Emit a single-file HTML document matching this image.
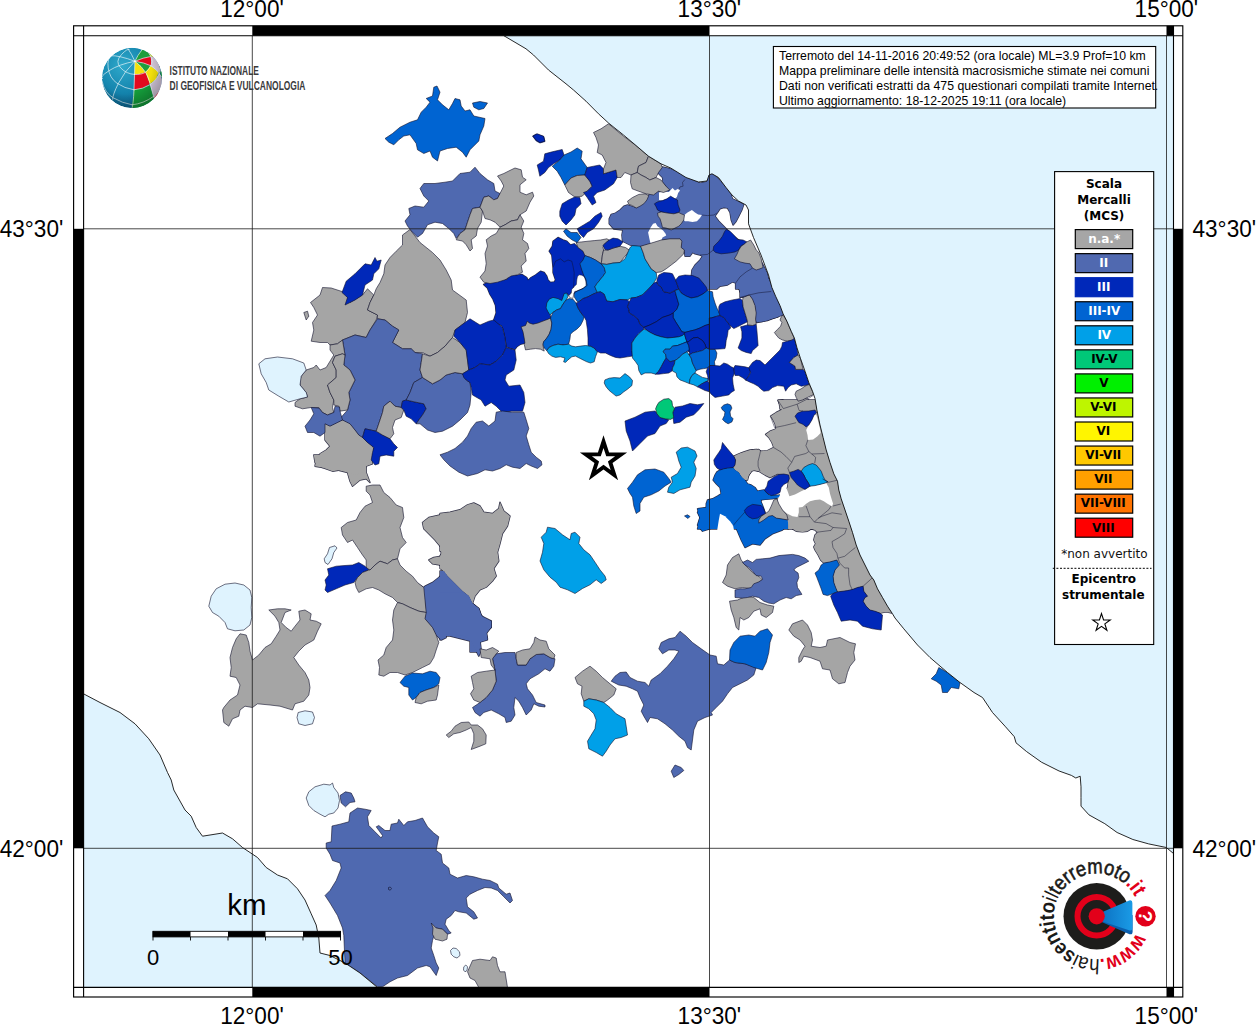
<!DOCTYPE html>
<html><head><meta charset="utf-8"><title>Mappa</title>
<style>
html,body{margin:0;padding:0;background:#fff;}
body{width:1256px;height:1024px;overflow:hidden;font-family:"Liberation Sans",sans-serif;}
svg{display:block;}
text{font-family:"Liberation Sans",sans-serif;}
text.dv{font-family:"DejaVu Sans","Liberation Sans",sans-serif;}
</style></head><body>
<svg width="1256" height="1024" viewBox="0 0 1256 1024">

<rect x="83.6" y="35.7" width="1089.9" height="951.7" fill="#fff"/>

<g stroke="#10102a" stroke-opacity="0.85" stroke-width="0.7" stroke-linejoin="round">
<path fill="#a5a5a5" stroke-width="1.4" d="M313.8 455L375 455L372.5 460L366.2 465L366.2 472.5L370 482.5L366.2 478.8L360 480L352.5 486.2L350 481.2L347.5 472.5L337.5 470L330 466.2L322.5 467.5L315 462.5Z"/>
<path fill="#a5a5a5" stroke-width="1.4" d="M422.5 522.5L428.8 517.5L440 515L443.8 513.8L443.8 572.5L440 565L432.5 563.8L428.8 560L433.8 557.5L441.2 556.2L441.2 547.5L435 540L428.8 533.8L423.8 528.8Z"/>
<path fill="#4f69b0" stroke-width="1.4" d="M417.5 583.8L423.8 587.5L425 586.2L432.5 582.5L438.8 577.5L443.8 572.5L446.2 572.5L446.2 637.5L441.2 640L436.2 635L432.5 627.5L425 618.8L426.2 612.5L425 600Z"/>
<path fill="#a5a5a5" stroke-width="1.4" d="M325 423.8L330 426.2L337.5 422.5L342.5 420L350 423.8L355 430L358.8 435L362.5 437.5L367.5 442.5L372.5 446.2L373.8 451.2L371.2 457.5L372.5 463.8L366.2 466.2L362.5 472.5L355 475L347.5 471.2L340 470L332.5 471.2L322.5 467.5L315 466.2L316.2 460L320 453.8L326.2 450L330 446.2L325 440L325 432.5Z"/>
<path fill="#a5a5a5" stroke-width="1.4" d="M440 513.5L450 512.2L460 509.8L467.5 504.8L473.8 503L480 506L483.8 512.2L492.5 513.5L498.8 508.5L500 502.2L503.8 511L510 516L507.5 526L502.5 533.5L500 543.5L497.5 552.2L498.8 561L493.8 568.5L496.2 576L492.5 581L486.2 587.2L480 589.8L475 596L472.5 603.5L468.8 596L462.5 591L455 583.5L447.5 576L443.8 571L440 568.5L440 556L442.5 552.2L440 551Z"/>
<path fill="#4f69b0" stroke-width="1.4" d="M443.8 571L447.5 576L455 583.5L462.5 591L468.8 596L472.5 603.5L478.8 608.5L481.2 616L491.2 621L491.2 627.2L486.2 633.5L487.5 639.8L480 642.2L477.5 652L470 652L470 641L460 638.5L450 636L440 636L440 571Z"/>
<path fill="#4f69b0" stroke-width="1.4" d="M440 592.5L463 592.5L468.8 596L472.5 603.5L478.8 608.5L481.2 615L485 620L491.2 621.2L491.2 627.5L486.2 631.2L487.5 638.8L480 640L481.2 650L478.8 656.2L471.2 641.2L465 636.2L455 634.5L445 635L440 640Z"/>
<path fill="#0028b9" stroke-width="1.4" d="M483.6 284.4L488 282.5L493 280L500.5 278.8L506.8 280L511.1 272.5L515.5 275.6L521.8 274.4L526.8 277.5L528 280.6L531.1 277.5L535.5 275L540.5 271.2L544.2 272.5L546.8 276.2L548 280L550.5 282.5L554.2 281.9L555.5 280L553 272.5L553 267.5L551.8 255L549.2 251.2L552.4 246.2L553 241.2L558 237.5L563 240L566.8 241.2L570.5 245L574.2 243.8L578 247.5L583 251.2L584.9 255L583 260L579.9 263.8L581.8 270L583.6 275L586.1 280L586.1 285.5L583 288.6L578 290.5L574.2 293L571.1 291.8L569.2 295.5L566.8 293L564.2 293.6L561.8 300.5L558 298.6L553 297.4L549.2 299.2L546.8 303L546.1 308L548 311.8L549.9 314.9L550.5 318L548 319.2L543 321.1L538 323L533 324.2L529.2 323L527.4 321.1L525.5 325.5L521.8 326.8L523 331.8L524.2 338L524.9 343L520.5 344.2L516.8 346.8L514.9 349.2L510.5 348L506.8 346.8L506.1 341.8L504.9 335.5L503.6 329.2L501.8 325.5L496.8 323L493.6 320.5L496.1 313L495.5 305.5L493 299.2L489.9 294.2L487.4 288Z"/>
<path fill="#4f69b0" stroke-width="1.4" d="M615.5 213.1L620 210L623.8 206.2L627.5 205L636.2 208.1L641.9 203.8L646.9 197.5L650 193.8L653.8 192.8L661.2 191.2L669.4 190.6L666.2 186.2L663.1 182.5L662.5 177.5L657.5 172.5L662.5 166.9L670 168.8L678.8 172.5L690 178.8L700 183.1L706.2 181.9L707.5 176.2L710.6 173.1L715 175.6L720 180.6L726.2 187.5L730.6 193.8L732.5 198.8L737.5 201.2L743.8 204.4L741.9 210L738.8 216.2L736.2 221.2L733.1 225L731.2 220L730 212.5L727.5 208.1L723.8 207.5L720 208.8L717.5 212.5L715 216.2L718.8 221.2L722.5 225L726.2 228.8L732.5 235L745 245L755 252.5L762.5 263.8L766.9 272.5L771.2 289L735.6 289L735.6 283.1L732.5 281.9L727.5 285L720 286.2L716.9 289L690 289L691.9 270L695 265L700 260L702.5 256.2L700 255L695 253.8L692.5 252.5L690 256.2L685 256.2L684.4 250L681.2 247.5L681.9 241.2L680 238.8L670 238.8L661.2 240L651.2 243.1L640.6 246.2L630 245L622.5 241.2L621.9 235L622.8 230L613.8 229L609.2 223.8L609.2 218.8L611.2 214.4Z"/>
<path fill="#4f69b0" stroke-width="1.4" d="M738.1 287L770.6 287L773.8 291.8L778 298L778 316.8L772.5 318.6L767.5 320.5L761.2 321.8L756.2 321.8L755.6 319.2L756.2 313L755 305.5L752.5 299.2L749.4 294.9L743.1 297.4L740.6 293Z"/>
<path fill="#0028b9" stroke-width="1.4" d="M636.2 301.8L657.5 293L675 294.2L707.5 293L712.5 300.5L715 318L723.8 320.5L725 345.5L707.5 346.8L690 351.8L672.5 344.2L657.5 335.5L645 328L638.8 319.2Z"/>
<path fill="#a5a5a5" stroke-width="1.4" d="M735.6 460L733.8 456.2L738.8 453.8L743.8 451.9L750 450L756.2 449.4L760.6 451.2L760 456.2L758.8 461.2L758.1 466.2L760 471.2L755 470L751.2 471.2L748.8 475L747.5 480L745 480L741.2 476.2L738.8 472.5L735 470L733.1 467.5L735 465Z"/>
<path fill="#0064d2" stroke-width="1.4" d="M720 470L723.8 468.8L727.5 468.1L733.1 467.5L735 470L738.8 472.5L741.2 476.2L745 480L747.5 483.8L751.2 485L755 487.5L757.5 491.2L760 490.6L763.8 490L768.8 495L775 495.6L780 495L783.1 496.9L777.5 498.1L772.5 498.8L765 499.4L760 500L761.9 503.8L763.8 508.8L765 512.5L760 517.5L758.8 521.9L763.8 520L768.8 516.2L772.5 515.6L776.2 518.1L781.2 518.8L788.1 520L788.8 523.8L788.1 529L697.5 529L698.8 523.8L700 517.5L697.5 512.5L700 508.8L706.2 510L706.2 503.8L707.5 500L712.5 498.8L717.5 496.2L721.2 493.8L720 487.5L716.2 483.8L713.1 480L715 475L716.9 471.9Z"/>
<path fill="#0064d2" stroke-width="1.4" d="M697.5 508.8L706.2 507.5L708.8 500L761.2 500L760 505L762.5 512.5L760 517.5L765 515L770 515L777.5 518.8L787.5 521.2L787.5 525L782.5 530L772.5 533.8L765 538.8L760 545L752.5 543.8L745 547.5L741.2 540L737.5 531.2L733.8 523.8L731.2 517.5L725 516.2L720 513.8L716.2 521.2L710 528.8L702.5 531.2L697.5 525L700 517.5Z"/>
<path fill="#4f69b0" stroke-width="1.4" d="M740 279L769 279L771.9 287.5L775.6 296.2L780 305.6L783.1 313.8L782.5 315L777.5 316.9L771.2 318.8L765 320.6L756.9 322.5L756.2 317.5L756.9 310L755 302.5L751.9 297.5L749.4 295L745 296.2L740 297.5Z"/>
<path fill="#a5a5a5" stroke-width="1.4" d="M778.1 400.6L782.5 400L786.9 401.9L791.2 402.5L795 405L796.2 409L780 409L779.4 403.8Z"/>
<path fill="#a5a5a5" stroke-width="1.4" d="M796.2 405L798.1 401.2L802.5 400L806.2 398.1L808.1 400L809.4 403.8L815 403.8L815.6 409L796.9 409Z"/>
<path fill="#a5a5a5" stroke-width="1.4" d="M778.1 400L815 400L816.9 410L820 425L823.1 437.5L826.2 450L830 462.5L833.8 473.8L837.5 481.2L838.8 490L841.2 502.5L845 516.2L848.8 529L788.1 529L788.1 520L782.5 512.5L777.5 501.2L777.5 497.5L782.5 496.2L787.5 487.5L788.8 480L788.1 475L777.5 473.8L770 477.5L765 475L758.8 471.2L752.5 470L748.8 475L745.6 480L742.5 477.5L740 473.8L740 453.8L746.2 452.5L752.5 450L758.8 449.4L760.6 451.2L767.5 450.6L773.8 447.5L771.9 442.5L768.8 437.5L765.6 434.4L770 431.2L776.2 428.8L775 423.8L772.5 418.8L770.6 416.2L776.2 412.5L781.2 410L782.5 407.5L780 405L778.8 402.5Z"/>
<path fill="#a5a5a5" stroke-width="1.4" d="M833.1 490L838.8 490L841.2 498.8L845 510L848.8 521.2L852.5 532.5L856.2 545L860 555L865 565L870 575L873.8 580L877.5 588.8L882.5 597.5L887.5 606.2L891.9 613.1L886.2 611.9L880 613.1L875 611.2L870 610L866.2 606.2L863.1 601.2L865 597.5L867.5 596.2L863.8 591.2L863.1 586.2L857.5 587.5L852.5 589.4L847.5 590.6L837.5 591.9L835.6 587.5L833.8 582.5L833.1 576.2L835 570L837.5 565.6L836.9 560L830 561.9L823.8 563.1L820.6 560L818.1 555L815 550L813.8 546.9L815.6 543.8L813.8 540L815 535L817.5 532.5L815 530L811.2 528.8L807.5 531.2L802.5 531.9L796.2 531.2L792.5 528.8L788.8 525.6L787.5 520L788.1 517.5L792.5 516.9L798.8 516.9L799.4 512.5L800 508.1L806.2 506.9L808.1 502.5L812.5 500.6L818.8 499.8L823.8 502.5L827.5 506.2L832.5 505.6L833.1 497.5Z"/>
<path fill="#a5a5a5" stroke="none" d="M313.8 455L375 455L372.5 460L366.2 465L366.2 472.5L370 482.5L366.2 478.8L360 480L352.5 486.2L350 481.2L347.5 472.5L337.5 470L330 466.2L322.5 467.5L315 462.5Z"/>
<path fill="#a5a5a5" stroke="none" d="M422.5 522.5L428.8 517.5L440 515L443.8 513.8L443.8 572.5L440 565L432.5 563.8L428.8 560L433.8 557.5L441.2 556.2L441.2 547.5L435 540L428.8 533.8L423.8 528.8Z"/>
<path fill="#4f69b0" stroke="none" d="M417.5 583.8L423.8 587.5L425 586.2L432.5 582.5L438.8 577.5L443.8 572.5L446.2 572.5L446.2 637.5L441.2 640L436.2 635L432.5 627.5L425 618.8L426.2 612.5L425 600Z"/>
<path fill="#a5a5a5" stroke="none" d="M325 423.8L330 426.2L337.5 422.5L342.5 420L350 423.8L355 430L358.8 435L362.5 437.5L367.5 442.5L372.5 446.2L373.8 451.2L371.2 457.5L372.5 463.8L366.2 466.2L362.5 472.5L355 475L347.5 471.2L340 470L332.5 471.2L322.5 467.5L315 466.2L316.2 460L320 453.8L326.2 450L330 446.2L325 440L325 432.5Z"/>
<path fill="#a5a5a5" stroke="none" d="M440 513.5L450 512.2L460 509.8L467.5 504.8L473.8 503L480 506L483.8 512.2L492.5 513.5L498.8 508.5L500 502.2L503.8 511L510 516L507.5 526L502.5 533.5L500 543.5L497.5 552.2L498.8 561L493.8 568.5L496.2 576L492.5 581L486.2 587.2L480 589.8L475 596L472.5 603.5L468.8 596L462.5 591L455 583.5L447.5 576L443.8 571L440 568.5L440 556L442.5 552.2L440 551Z"/>
<path fill="#4f69b0" stroke="none" d="M443.8 571L447.5 576L455 583.5L462.5 591L468.8 596L472.5 603.5L478.8 608.5L481.2 616L491.2 621L491.2 627.2L486.2 633.5L487.5 639.8L480 642.2L477.5 652L470 652L470 641L460 638.5L450 636L440 636L440 571Z"/>
<path fill="#4f69b0" stroke="none" d="M440 592.5L463 592.5L468.8 596L472.5 603.5L478.8 608.5L481.2 615L485 620L491.2 621.2L491.2 627.5L486.2 631.2L487.5 638.8L480 640L481.2 650L478.8 656.2L471.2 641.2L465 636.2L455 634.5L445 635L440 640Z"/>
<path fill="#0028b9" stroke="none" d="M483.6 284.4L488 282.5L493 280L500.5 278.8L506.8 280L511.1 272.5L515.5 275.6L521.8 274.4L526.8 277.5L528 280.6L531.1 277.5L535.5 275L540.5 271.2L544.2 272.5L546.8 276.2L548 280L550.5 282.5L554.2 281.9L555.5 280L553 272.5L553 267.5L551.8 255L549.2 251.2L552.4 246.2L553 241.2L558 237.5L563 240L566.8 241.2L570.5 245L574.2 243.8L578 247.5L583 251.2L584.9 255L583 260L579.9 263.8L581.8 270L583.6 275L586.1 280L586.1 285.5L583 288.6L578 290.5L574.2 293L571.1 291.8L569.2 295.5L566.8 293L564.2 293.6L561.8 300.5L558 298.6L553 297.4L549.2 299.2L546.8 303L546.1 308L548 311.8L549.9 314.9L550.5 318L548 319.2L543 321.1L538 323L533 324.2L529.2 323L527.4 321.1L525.5 325.5L521.8 326.8L523 331.8L524.2 338L524.9 343L520.5 344.2L516.8 346.8L514.9 349.2L510.5 348L506.8 346.8L506.1 341.8L504.9 335.5L503.6 329.2L501.8 325.5L496.8 323L493.6 320.5L496.1 313L495.5 305.5L493 299.2L489.9 294.2L487.4 288Z"/>
<path fill="#4f69b0" stroke="none" d="M615.5 213.1L620 210L623.8 206.2L627.5 205L636.2 208.1L641.9 203.8L646.9 197.5L650 193.8L653.8 192.8L661.2 191.2L669.4 190.6L666.2 186.2L663.1 182.5L662.5 177.5L657.5 172.5L662.5 166.9L670 168.8L678.8 172.5L690 178.8L700 183.1L706.2 181.9L707.5 176.2L710.6 173.1L715 175.6L720 180.6L726.2 187.5L730.6 193.8L732.5 198.8L737.5 201.2L743.8 204.4L741.9 210L738.8 216.2L736.2 221.2L733.1 225L731.2 220L730 212.5L727.5 208.1L723.8 207.5L720 208.8L717.5 212.5L715 216.2L718.8 221.2L722.5 225L726.2 228.8L732.5 235L745 245L755 252.5L762.5 263.8L766.9 272.5L771.2 289L735.6 289L735.6 283.1L732.5 281.9L727.5 285L720 286.2L716.9 289L690 289L691.9 270L695 265L700 260L702.5 256.2L700 255L695 253.8L692.5 252.5L690 256.2L685 256.2L684.4 250L681.2 247.5L681.9 241.2L680 238.8L670 238.8L661.2 240L651.2 243.1L640.6 246.2L630 245L622.5 241.2L621.9 235L622.8 230L613.8 229L609.2 223.8L609.2 218.8L611.2 214.4Z"/>
<path fill="#4f69b0" stroke="none" d="M738.1 287L770.6 287L773.8 291.8L778 298L778 316.8L772.5 318.6L767.5 320.5L761.2 321.8L756.2 321.8L755.6 319.2L756.2 313L755 305.5L752.5 299.2L749.4 294.9L743.1 297.4L740.6 293Z"/>
<path fill="#0028b9" stroke="none" d="M636.2 301.8L657.5 293L675 294.2L707.5 293L712.5 300.5L715 318L723.8 320.5L725 345.5L707.5 346.8L690 351.8L672.5 344.2L657.5 335.5L645 328L638.8 319.2Z"/>
<path fill="#a5a5a5" stroke="none" d="M735.6 460L733.8 456.2L738.8 453.8L743.8 451.9L750 450L756.2 449.4L760.6 451.2L760 456.2L758.8 461.2L758.1 466.2L760 471.2L755 470L751.2 471.2L748.8 475L747.5 480L745 480L741.2 476.2L738.8 472.5L735 470L733.1 467.5L735 465Z"/>
<path fill="#0064d2" stroke="none" d="M720 470L723.8 468.8L727.5 468.1L733.1 467.5L735 470L738.8 472.5L741.2 476.2L745 480L747.5 483.8L751.2 485L755 487.5L757.5 491.2L760 490.6L763.8 490L768.8 495L775 495.6L780 495L783.1 496.9L777.5 498.1L772.5 498.8L765 499.4L760 500L761.9 503.8L763.8 508.8L765 512.5L760 517.5L758.8 521.9L763.8 520L768.8 516.2L772.5 515.6L776.2 518.1L781.2 518.8L788.1 520L788.8 523.8L788.1 529L697.5 529L698.8 523.8L700 517.5L697.5 512.5L700 508.8L706.2 510L706.2 503.8L707.5 500L712.5 498.8L717.5 496.2L721.2 493.8L720 487.5L716.2 483.8L713.1 480L715 475L716.9 471.9Z"/>
<path fill="#0064d2" stroke="none" d="M697.5 508.8L706.2 507.5L708.8 500L761.2 500L760 505L762.5 512.5L760 517.5L765 515L770 515L777.5 518.8L787.5 521.2L787.5 525L782.5 530L772.5 533.8L765 538.8L760 545L752.5 543.8L745 547.5L741.2 540L737.5 531.2L733.8 523.8L731.2 517.5L725 516.2L720 513.8L716.2 521.2L710 528.8L702.5 531.2L697.5 525L700 517.5Z"/>
<path fill="#4f69b0" stroke="none" d="M740 279L769 279L771.9 287.5L775.6 296.2L780 305.6L783.1 313.8L782.5 315L777.5 316.9L771.2 318.8L765 320.6L756.9 322.5L756.2 317.5L756.9 310L755 302.5L751.9 297.5L749.4 295L745 296.2L740 297.5Z"/>
<path fill="#a5a5a5" stroke="none" d="M778.1 400.6L782.5 400L786.9 401.9L791.2 402.5L795 405L796.2 409L780 409L779.4 403.8Z"/>
<path fill="#a5a5a5" stroke="none" d="M796.2 405L798.1 401.2L802.5 400L806.2 398.1L808.1 400L809.4 403.8L815 403.8L815.6 409L796.9 409Z"/>
<path fill="#a5a5a5" stroke="none" d="M778.1 400L815 400L816.9 410L820 425L823.1 437.5L826.2 450L830 462.5L833.8 473.8L837.5 481.2L838.8 490L841.2 502.5L845 516.2L848.8 529L788.1 529L788.1 520L782.5 512.5L777.5 501.2L777.5 497.5L782.5 496.2L787.5 487.5L788.8 480L788.1 475L777.5 473.8L770 477.5L765 475L758.8 471.2L752.5 470L748.8 475L745.6 480L742.5 477.5L740 473.8L740 453.8L746.2 452.5L752.5 450L758.8 449.4L760.6 451.2L767.5 450.6L773.8 447.5L771.9 442.5L768.8 437.5L765.6 434.4L770 431.2L776.2 428.8L775 423.8L772.5 418.8L770.6 416.2L776.2 412.5L781.2 410L782.5 407.5L780 405L778.8 402.5Z"/>
<path fill="#a5a5a5" stroke="none" d="M833.1 490L838.8 490L841.2 498.8L845 510L848.8 521.2L852.5 532.5L856.2 545L860 555L865 565L870 575L873.8 580L877.5 588.8L882.5 597.5L887.5 606.2L891.9 613.1L886.2 611.9L880 613.1L875 611.2L870 610L866.2 606.2L863.1 601.2L865 597.5L867.5 596.2L863.8 591.2L863.1 586.2L857.5 587.5L852.5 589.4L847.5 590.6L837.5 591.9L835.6 587.5L833.8 582.5L833.1 576.2L835 570L837.5 565.6L836.9 560L830 561.9L823.8 563.1L820.6 560L818.1 555L815 550L813.8 546.9L815.6 543.8L813.8 540L815 535L817.5 532.5L815 530L811.2 528.8L807.5 531.2L802.5 531.9L796.2 531.2L792.5 528.8L788.8 525.6L787.5 520L788.1 517.5L792.5 516.9L798.8 516.9L799.4 512.5L800 508.1L806.2 506.9L808.1 502.5L812.5 500.6L818.8 499.8L823.8 502.5L827.5 506.2L832.5 505.6L833.1 497.5Z"/>
<path fill="#fff" stroke="none" d="M659 192.5L663.1 191.2L668.8 191.9L672.5 188.1L675 190.6L678.1 188.8L680 190.6L678.1 193.1L676.9 196.9L675 198.8L670.6 196.2L666.9 198.8L662.5 200.6L659 200Z"/>
<path fill="#fff" stroke="none" d="M684.4 215L687.5 212.5L691.9 210L695 212.5L698.1 214.4L701.9 215L700 218.1L696.9 221.2L692.5 221.9L688.1 221.2L685 221.2L683.8 220Z"/>
<path fill="#fff" stroke="none" d="M648.1 232.5L650.6 227.5L653.1 223.8L655.6 223.1L657.5 226.2L660 228.1L663.1 230.6L665.6 233.8L666.2 235.6L662.5 237.5L660.6 241.9L656.2 242.5L650.6 243.8L649.4 238.8Z"/>
<path fill="#fff" stroke="none" d="M720 513.8L725 516.2L730 521.2L733.1 525.6L734 530.2L717.2 530.2L718.8 520Z"/>
<path fill="#fff" stroke="none" d="M806.2 430L808.8 425L811.9 420L813.8 415.6L816.2 414.4L817.5 418.8L820 428.8L820.6 433.1L817.5 436.2L813.1 439.4L808.1 440L807.5 435Z"/>
<path fill="#fff" stroke="none" d="M777.5 500L780 495L780.6 487.5L783.1 485L786.2 487.5L788.1 492.5L789.4 496.2L795 494.4L801.2 491.2L805 489.4L810 486.2L820 484.4L826.2 483.1L828.8 487.5L830 493.8L831.9 500L833.1 503.8L831.9 506.2L827.5 503.8L823.8 501.2L820 499.4L815 500L810 501.2L806.2 503.8L802.5 506.9L798.8 507.5L798.8 512.5L797.5 516.9L792.5 516.2L787.5 513.8L783.1 510.6L779.4 506.2Z"/>
<path fill="#fff" stroke="none" d="M579 274.8L581.8 275.2L584.4 276.8L585.7 280.6L587.3 285.4L584.4 287.6L581.8 288.9L578 290.8L574.8 291.4L573.6 294.6L572.9 298.4L569.7 297.5L568.8 295.5L571.3 293.3L571.7 289.5L574.2 286.6L576.4 284.4L576.8 279.9L577.4 276.8Z"/>
<path fill="#a5a5a5" d="M366.2 486.2L372.5 485L380 485L383.8 492.5L390 497.5L396.2 505L402.5 507.5L403.8 517.5L400 527.5L402.5 537.5L406.2 542.5L400 548.8L397.5 558.8L392.5 560L387.5 563.8L380 561.2L375 565L370 570L366.2 567.5L366.2 560L362.5 555L357.5 547.5L352.5 540L347.5 542.5L342.5 535L341.2 527.5L347.5 522.5L356.2 520L360 512.5L365 506.2L372.5 502.5L370 495L366.2 491.2Z"/>
<path fill="#0028b9" d="M325 580L328.8 575L327.5 568.8L336.2 566.2L345 565.5L352.5 565L358.8 562.5L365 566.2L368.8 570L362.5 572.5L357.5 577.5L353.8 582.5L345 585L336.2 588.8L327.5 592.5L325 590L326.2 585Z"/>
<path fill="#a5a5a5" d="M355 582.5L357.5 577.5L362.5 572.5L368.8 570L370 570L375 565L380 561.2L387.5 563.8L392.5 560L397.5 558.8L400 565L406.2 571.2L412.5 576.2L417.5 582.5L423.8 587.5L425 600L426.2 612.5L418.8 611.2L410 607.5L402.5 603.8L397.5 602.5L392.5 597.5L385 593.8L378.8 590L372.5 587.5L366.2 588.8L358.8 592.5L356.2 587.5Z"/>
<path fill="#a5a5a5" d="M397.5 602.5L402.5 603.8L410 607.5L418.8 611.2L426.2 612.5L425 618.8L432.5 627.5L436.2 635L438.8 642.5L436.2 650L433.8 657.5L430 663.8L422.5 667.5L412.5 672.5L405 675L397.5 672.5L390 672.5L383.8 676.2L378.8 675L379.5 667.5L378 660L383.8 655L386.2 647.5L392.5 640L393.8 630L392.5 620L393.8 610Z"/>
<path fill="#0064d2" d="M400 682.5L405 676.2L412.5 673L422.5 673.8L430 671.2L436.2 672.5L440 677.5L438.8 683.8L433.8 687.5L426.2 690L420 692.5L416.2 697.5L412.5 700L408.8 695L408.8 687.5L403.8 686.2Z"/>
<path fill="#a5a5a5" d="M416.2 697.5L420 692.5L426.2 690L433.8 687.5L438.8 685L437.5 695L436.2 700L427.5 701.2L421.2 703.8L415 702.5Z"/>
<path fill="#a5a5a5" d="M268.8 610L277.5 608.8L285 608.8L291.2 610L285 612.5L281.2 622.5L286.2 627.5L291.2 631.2L295 626.2L300 620L298.8 611.2L305 610L311.2 613.8L310 620L316.2 621.2L321.2 623.8L317.5 631.2L313.8 640L305 645L298.8 651.2L293.8 657.5L298.8 665L305 672.5L308.8 680L310 687.5L308.8 695L303.8 701.2L295 703.8L292.5 710L280 706.2L270 705L257.5 703.8L252.5 707.5L245 706.2L240 710L238.8 716.2L232.5 718.8L228.8 726.2L223.8 722.5L222.5 710L223.8 707.5L230 700L237.5 695L240 685L236.2 677.5L230 676.2L231.2 667.5L230 657.5L232.5 647.5L236.2 638.8L240 633.8L246.2 635L248.8 642.5L250 651.2L252.5 660L258.8 655L265 647.5L271.2 643.8L276.2 636.2L280 630L278.8 622.5L275 616.2Z"/>
<path fill="#a5a5a5" d="M310.5 302.5L320 295L322.5 287.5L331.2 288L345 292.5L350 302.5L362.5 295L367.5 288.8L373.8 295L370 302.5L367.5 310L377.5 315L376.2 320L370 330L366.2 337.5L355 335L342.5 340L337.5 343.8L330 345L327.5 342.5L320 342.5L311.2 341.2L313.8 330L312.5 322.5L317.5 315L313.8 307.5Z"/>
<path fill="#a5a5a5" d="M303.8 312.5L307.5 311.2L308.8 316.2L306.2 320Z"/>
<path fill="#0028b9" d="M342 292.5L346.2 281.2L355 273.8L365 263.8L371.2 265L375 257.5L377 261.2L381.2 260L378.8 268.8L373.8 273.8L372.5 280L365 285L362.5 295L355 300L345 305L347.5 297.5Z"/>
<path fill="#a5a5a5" d="M402.5 235L410 229.5L420 242.5L432.5 252.5L440 260L446.2 270L451.2 280L452.5 290L466.2 300L467.5 312.5L465 322.5L455 330L452.5 337.5L445 346.2L437.5 352.5L430 356.2L422.5 352.5L415 352.5L411.2 348.8L402.5 348.8L392.5 342.5L395 337.5L398.8 330L392.5 326.2L385 320L377.5 318.8L377.5 315L367.5 310L370 302.5L373.8 295L376.2 288.8L380 282.5L383.8 273.8L385 265L390 257.5L396.2 251.2L402.5 245Z"/>
<path fill="#4f69b0" d="M377.5 318.8L385 320L392.5 326.2L398.8 330L395 337.5L392.5 342.5L402.5 348.8L411.2 348.8L415 352.5L422.5 353.8L421.2 362.5L420 370L422.5 377.5L413.8 382.5L410 392.5L406.2 400L402.5 401.2L401.2 407.5L395 406.2L390 401.2L383.8 406.2L382.5 412.5L380 420L377.5 427.5L376.2 431.2L365 428.8L362.5 437.5L358.8 435L355 430L350 423.8L342.5 420L338.8 420L347.5 410L350 400L348.8 392.5L355 380L350 370L343.8 365L345 355L342.5 340L355 335L366.2 337.5L370 330Z"/>
<path fill="#a5a5a5" d="M300 380L301.2 376.2L306.2 370L313.8 367.5L316.2 365L320 370L326.2 367.5L333.8 355L330 350L330 345L337.5 343.8L342.5 340L345 355L342.5 353.8L335 356.2L332.5 362.5L336.2 370L336.2 377.5L327.5 385L330 392.5L333.8 400L332.5 407.5L333.8 412.5L327.5 415L322.5 412.5L318.8 407.5L311.2 407.5L302.5 408.8L295 406.2L295 402.5L300 398.8L307.5 397L306.2 392.5L300 385Z"/>
<path fill="#a5a5a5" d="M335 356.2L342.5 353.8L345 355L343.8 365L350 370L355 380L348.8 392.5L350 400L347.5 410L340 411.2L338.8 406.2L333.8 405L333.8 400L330 392.5L327.5 385L336.2 377.5L336.2 370L332.5 362.5Z"/>
<path fill="#4f69b0" d="M311.2 407.5L318.8 408L322.5 412.5L327.5 415L333.8 412.5L335 406.2L339.5 407L340 411.2L342.5 420L337.5 422.5L330 426.2L325 423.8L325 432.5L320 436.2L313.8 432.5L307.5 432.5L305 426.2L310 420L313.8 413.8Z"/>
<path fill="#0028b9" d="M365 428.8L376.2 431.2L382.5 435L390 438.8L393.8 443.8L397.5 447.5L393.8 451.2L393.8 456.2L386.2 455L380 456.2L378.8 463.8L375 465L371.2 460L372.5 452.5L373.8 447.5L367.5 442.5L362.5 437.5Z"/>
<path fill="#a5a5a5" d="M390 401.2L395 406.2L401.2 407.5L403.8 410L401.2 417.5L395 420L392.5 427.5L393.8 433.8L390 438.8L382.5 435L376.2 431.2L380 420L382.5 412.5L383.8 406.2Z"/>
<path fill="#0028b9" d="M402.5 401.2L406.2 400L415 402L423.8 403.8L426.2 408.8L422.5 415L418.8 420L416.2 423.8L411.2 418.8L406.2 416.2L403.8 410L401.2 407.5Z"/>
<path fill="#4f69b0" d="M413.8 382.5L422.5 377.5L432.5 383.8L440 380L446.2 375L455 372.5L462.5 373.8L466.2 380L470 382.5L471.2 392.5L470 405L467.5 412.5L460 420L452.5 426.2L442.5 431.2L435 432.5L427.5 430L420 423.8L416.2 423.8L418.8 420L422.5 415L426.2 408.8L423.8 403.8L415 402L406.2 400L410 392.5Z"/>
<path fill="#a5a5a5" d="M422.5 353.8L430 356.2L437.5 352.5L445 346.2L452.5 337.5L460 342.5L466.2 350L467.5 360L468.8 370L462.5 373.8L455 372.5L446.2 375L440 380L432.5 383.8L422.5 377.5L420 370L421.2 362.5Z"/>
<path fill="#0028b9" d="M453.8 336.2L455 330L465 322.5L470 318.8L480 325L488.8 321.2L493.8 320L502.5 327.5L505 337.5L506.2 347.5L502.5 355L496.2 361.2L490 365L480 363.8L475 367.5L468.8 370L467.5 360L466.2 350L460 342.5Z"/>
<path fill="#0028b9" d="M468.8 370L475 367.5L480 363.8L490 365L496.2 361.2L502.5 355L506.2 347.5L515 350L516.2 360L513.8 370L506.2 375L505 380L508.8 386.2L520 385L523.8 392.5L525 402.5L522.5 411.2L511.2 411.2L502.5 412.5L496.2 406.2L491.2 402.5L485 406.2L481.2 400L472.5 395L471.2 387.5L470 382.5L466.2 380L463.8 377.5L462.5 373.8Z"/>
<path fill="#4f69b0" d="M340 795.5L345.5 791.8L351.2 793L353.8 798L355 801.8L350 802.5L345.5 806.8L341.2 803Z"/>
<path fill="#4f69b0" d="M332 826L340 824.2L348.8 821.8L350 813L357.5 808L365 809.2L371.2 810.5L367.5 816.8L368.8 825.5L375 831.8L381.2 838L382.5 835.5L376.2 826.8L378.8 825.5L385 830.5L390 830.5L391.2 824.2L397.5 823L398.8 819.2L403.8 825.5L407.5 821.8L415 820.5L422.5 818L427.5 826.8L433.8 833L438.8 836.8L437.5 843L436.2 850.5L441.2 854.2L442.5 863L448.8 868L450 874.2L457.5 878L466.2 875.5L473.8 876.8L482.5 879.2L490 880.5L497.5 884.2L498.8 888L506.2 894.2L510 893L512.5 900.5L510 903L503.8 896.8L497.5 890.5L491.2 888L485 887.5L477.5 890.5L470 894.2L466.2 898L467.5 906.8L473.8 911.8L477.5 918L473.8 919.2L466.2 913L458.8 911.8L455 910.5L451.2 915.5L446.2 919.2L445 924.2L448.8 930.5L451.2 933L447.5 934.2L442.5 929.2L436.2 928L432.5 940.5L431.2 948L433.8 955.5L436.2 963L438.8 968L436.2 975.5L430 966.8L426.2 965.5L417.5 968L407.5 975.5L397.5 978L390 981.8L382.5 986.8L377.5 986.8L360 973L345 963L343.8 935.5L342.5 928L337.5 915.5L330 903L325 895.5L330 890.5L336.2 880.5L341.2 868L340 863L332.5 860.5L330 854.2L326.2 848L326.2 843L331.2 841.8Z"/>
<path fill="#a5a5a5" d="M431.2 923L436.2 928L442.5 929.2L447.5 934.2L447 939.2L442.5 941L435 939.2L432.5 934.2L433 928Z"/>
<path fill="#a5a5a5" d="M467.5 971.8L472.5 960.5L480 959.2L490 960.5L492.5 956.8L496.2 958L497.5 965.5L500 971.8L505 971.8L507.5 987.5L478.8 987.5L475 980.5L470 978Z"/>
<path fill="#4f69b0" d="M388.5 887.5L390.2 887L391.5 888.5L390.2 890.2L388.5 889.5Z"/>
<path fill="#0064d2" d="M385 138.5L392.5 133.5L400 127.2L410 122.2L417.5 119.8L421.2 112.2L426.2 107.2L430 102.2L426.2 98.5L432.5 96L433.8 87.2L437 86L440 92.2L437.5 99.8L442.5 104.8L448.8 109.8L452.5 103.5L455 98.5L460 99.8L461.2 106L465 111L470 109.8L473.8 116L485 118.5L483.8 126L480 134.8L478.8 141L473.8 146L470 149.8L466.2 157.2L462.5 152.2L456.2 147.2L447.5 148.5L440 151L437.5 161L432.5 157.2L430 151L423.8 153.5L417.5 149.8L416.2 143.5L410 134.8L403.8 136L398.8 139.8L393.8 144.8L388.8 142.2Z"/>
<path fill="#0064d2" d="M472.5 103L480 101.5L487.5 103L483.8 108.5L478.8 109.8L473.8 107.2Z"/>
<path fill="#0028b9" d="M532.5 136L536.2 134L543.8 136.5L545 141.5L540 143L536.2 141Z"/>
<path fill="#4f69b0" d="M405 221L410 214.8L408.8 208.5L415 206L423.8 207.2L428.8 201L423.8 196L420 188.5L423.8 183.5L435 183.5L445 182.2L452.5 181L460 173.5L470 172.2L475 167.2L480 173.5L487.5 179.8L493.8 183.5L495 191L500 193.5L497.5 198.5L493.8 199.8L488.8 196L483.8 197.2L480 207.2L472.5 208.5L470 214.8L467.5 222.2L465 229.8L460 233.5L456.2 238.5L453.8 233.5L448.8 228.5L442.5 223.5L435 222.2L427.5 224.8L422.5 233.5L417.5 237.2L412.5 232.2L407.5 226Z"/>
<path fill="#a5a5a5" d="M472.5 208.5L480 207.2L482.5 211L481.2 222.2L477.5 228.5L476.2 236L471.2 239.8L472.5 248.5L470 251L466.2 244.8L462.5 241L456.2 239.8L460 233.5L465 229.8L467.5 222.2L470 214.8Z"/>
<path fill="#a5a5a5" d="M480 207.2L483.8 197.2L488.8 196L493.8 199.8L497.5 198.5L500 193.5L503.8 186L501.2 181L497.5 176L503.8 173.5L511.2 169.8L515 168L521.2 169.8L522.5 177.2L526.2 179.8L520 184.8L520 192.2L526.2 194.8L532.5 192.2L533.8 196L530 202.2L526.2 211L520 214.8L517.5 219.8L511.2 221L505 224.8L500 227.2L495 222.2L490 219.8L485 218.5L482.5 211Z"/>
<path fill="#a5a5a5" d="M500 227.2L505 224.8L511.2 221L517.5 219.8L520 214.8L523.8 221L521.2 227.2L523.8 233.5L522.5 239.8L527.5 243.5L528.8 248.5L525 253.5L526.2 261L521.2 266L522.5 272.2L517.5 274.8L511.2 276L505 279.8L497.5 282.2L490 283.5L483.8 282.2L480 277.2L485 271L486.2 263.5L485 253.5L487.5 246L486.2 239.8L491.2 236L496.2 233.5Z"/>
<path fill="#4f69b0" d="M440 454.8L447.5 452.2L455 448.5L462.5 442.2L467.5 436L471.2 428.5L476.2 422.2L482.5 421L488.8 426L495 421L496.2 412.2L502.5 411L512.5 412.2L523.8 412.2L526.2 419.8L528.8 428.5L526.2 436L528.8 444.8L531.2 452.2L536.2 457.2L541.2 461L542 464.8L537.5 468.5L531.2 466L526.2 463.5L520 468.5L512.5 467.2L506.2 464.8L500 468.5L492.5 471L485 469.8L477.5 473.5L467.5 476L458.8 472.2L450 466L443.8 459.8Z"/>
<path fill="#0028b9" d="M625 421L635 417.2L645 412.2L655 411L660 417.2L668.8 419.8L666.2 423.5L660 426L655 433.5L647.5 436L640 443.5L632.5 451L630 441L626.2 431Z"/>
<path fill="#0028b9" d="M675 407.2L682.5 406L690 403.5L697.5 404.8L703.8 403.5L698.8 409.8L693.8 414.8L686.2 417.2L680 422.2L673.8 423.5L672.5 413.5Z"/>
<path fill="#0064d2" d="M627.5 488.5L632.5 482.2L637.5 474.8L645 469.8L655 469L663.8 472.2L668.8 478.5L671.2 482.2L665 486L658.8 491L651.2 494.8L643.8 497.2L640 503.5L640 511L636.2 513.5L633.8 506L632.5 497.2L630 493.5Z"/>
<path fill="#00a0e8" d="M676.2 452.2L681.2 448L687.5 447.2L695 451L697 456L693.8 462.2L696.2 468.5L695 476L691.2 482.2L690 487.2L680 489.8L673.8 493.5L667.5 492.2L668.8 487.2L672.5 482.2L671.2 477.2L677.5 473.5L681.2 467.2L678.8 461L677.5 456Z"/>
<path fill="#0064d2" d="M684.5 516L687.5 514.8L690 516.5L688 518.5Z"/>
<path fill="#00a0e8" d="M541.2 537.2L546.2 532.2L547.5 527.2L555 528.5L562.5 534.8L570 539.8L571.2 533.5L575 532.2L580 537.2L578.8 543.5L583.8 549.8L590 554.8L595 562.2L600 569.8L605 576L606.2 579.8L601.2 583.5L596.2 579.8L590 584.8L582.5 588.5L575 593.5L567.5 589.8L560 587.2L556.2 582.2L550 577.2L543.8 569.8L540 561L542.5 552.2L543.8 543.5Z"/>
<path fill="#4f69b0" d="M611.2 681.2L615 676.2L620 672.5L626.2 672L630 677.5L637.5 681.2L645 682.5L648.8 686.2L651.2 680L660 673.8L667.5 666.2L673.8 658.8L678.8 651.2L675 650L668.8 650L662.5 653.8L658.8 648.8L661.2 642.5L668.8 638.8L675 637.5L680 631.2L686.2 636.2L692.5 642.5L701.2 648.8L710 655L716.2 656.2L717.5 663.8L723.8 665L729.5 660L735 662.5L745 663.8L756.2 667.5L753.8 675L747.5 680L740 683.8L732.5 687.5L727.5 693.8L722.5 701.2L716.2 707.5L711.2 712.5L712.5 715L705 717.5L697.5 721.2L693.8 730L692.5 740L691.2 750L687.5 747.5L685 741.2L678.8 736.2L672.5 730L665 723.8L657.5 718.8L650 717.5L647.5 722.5L643.8 716.2L641.2 711.2L643.8 705L640 697.5L637.5 691.2L632.5 688.8L626.2 686.2L618.8 685Z"/>
<path fill="#4f69b0" d="M671.2 771.2L675 765L681.2 767.5L683.8 770.5L678.8 774.5L673.8 777.5Z"/>
<path fill="#a5a5a5" d="M575 677.5L582.5 671.2L590 666.2L596.2 671.2L602.5 677.5L610 683.8L616.2 688.8L613.8 695L607.5 700L603.8 702.5L596.2 700L588.8 698.8L583.8 701.2L581.2 693.8L582 686.2L577.5 683.8Z"/>
<path fill="#00a0e8" d="M583.8 701.2L588.8 698.8L596.2 700L603.8 702.5L610 707.5L616.2 713.8L625 718.8L626.2 726.2L627.5 735L621.2 737.5L615 738.8L610 745L606.2 751.2L602.5 756.2L596.2 752.5L588.8 748.8L587.5 741.2L591.2 735L595 728.8L596.2 720L593.8 713.8L588.8 708.8L583.8 706.2Z"/>
<path fill="#4f69b0" d="M472.5 707.5L480 702.5L486.2 697.5L492.5 690L496.2 681.2L495 670L492.5 658.8L496.2 653.8L505 652.5L515 652.5L516.2 658.8L517.5 665L526.2 665L530 658.8L536.2 654.5L543.8 653.8L550 657.5L555 658.8L553.8 666.2L550 671.2L545 668.8L538.8 673.8L530 678.8L526.2 683.8L527.5 688.8L532.5 695L536.2 702.5L545 705L545 707L538.8 706.2L533.8 703.8L531.2 710L526.2 715L522.5 707.5L518.8 701.2L515 697.5L513.8 707.5L515 715L511.2 721.2L506.2 722.5L505 717.5L498.8 713.8L491.2 710L483.8 712.5L480 716.2L475 712.5Z"/>
<path fill="#a5a5a5" d="M516.2 652.5L522.5 650L530 648.8L533.8 642.5L535 637L540 640L546.2 641.2L548.8 648.8L555 655L553.8 658.8L550 657.5L543.8 653.8L536.2 654.5L530 658.8L526.2 665L517.5 665L516.2 658.8Z"/>
<path fill="#a5a5a5" d="M471.2 676.2L477.5 672.5L486.2 671.2L495 670L496.2 681.2L492.5 690L486.2 697.5L480 702.5L473.8 700L470.5 693.8L473.8 688.8L472.5 682.5Z"/>
<path fill="#a5a5a5" d="M480 648.8L486.2 650L492.5 647.5L498.8 651.2L496.2 653.8L492.5 658.8L495 670L491.2 665L490 658.8L481.2 657.5Z"/>
<path fill="#a5a5a5" d="M446.2 735L451.2 731.2L455 726.2L461.2 722.5L468.8 722L471.2 725L477.5 725L482.5 728.8L486.2 735L485.8 743.8L480 746.2L471.2 749.5L473.8 741.2L473.8 733.8L471.2 727.5L466.2 730L460 732.5L453.8 733.8L448.8 737.5Z"/>
<path fill="#a5a5a5" d="M576.1 242.5L581.8 241.9L588 241.2L594.2 240.6L600.5 240L606.8 238.8L609.2 240L604.2 243.8L603 247.5L603.6 250L602.4 255L601.8 260L601.1 263.8L595.5 260L590.5 257.5L584.9 255.6L583 251.2L578 247.5Z"/>
<path fill="#a5a5a5" d="M603.6 250L608 250L613 248.1L620 246.2L625.5 247.5L630 250.5L625 256.2L620 262.5L613 263.1L606.8 264.4L601.1 263.8L601.8 260L602.4 255Z"/>
<path fill="#0028b9" d="M603 245.6L605.5 243.1L609.2 240L613 238.1L618 238.8L620 240L623 241.9L620 246.2L613 248.1L608 250L604.9 249.4Z"/>
<path fill="#a5a5a5" d="M521.1 326.8L525.5 325.5L527.4 321.1L529.2 323L533 324.2L538 323L543 321.1L548 319.2L550.5 318L551.8 323L551.1 329.2L549.2 334.2L546.8 338L543.6 341.8L543 345.5L544.2 351.1L540.5 349.2L535.5 348.6L530.5 349.2L525.5 349.9L524.2 344.2L524.9 343L524.2 338L523 331.8Z"/>
<path fill="#00a0e8" d="M546.1 308L546.8 303L549.2 299.2L553 297.4L558 298.6L561.8 300.5L564.2 293.6L566.8 293L568 296.8L566.1 299.9L563 304.2L560.5 308.6L556.8 309.9L553 312.4L549.9 314.9L548 311.8Z"/>
<path fill="#0064d2" d="M550.5 318L553 312.4L556.8 309.9L560.5 308.6L563 304.2L566.1 299.9L569.2 298.6L573 299.2L576.1 303L578 308L581.1 313L584.2 316.8L583 320.5L580.5 325.5L576.8 329.2L573 331.8L570.5 334.2L569.9 339.2L568.6 344.2L563 344.9L558 344.2L553 345.5L549.2 347.4L546.8 350.5L544.2 348L543 344.2L543.6 341.8L546.8 338L549.2 334.2L551.1 329.2L551.8 323Z"/>
<path fill="#00a0e8" d="M546.8 350.5L549.2 347.4L553 345.5L558 344.2L563 344.9L568.6 344.2L571.8 346.1L575.5 346.8L580.5 346.1L585.5 345.5L590.5 346.1L594.2 348L597.4 351.8L595.5 356.8L594.2 361.8L590.5 363L586.8 361.8L583 359.9L579.2 358L575.5 356.1L571.8 356.8L568 359.9L565.5 362.4L563.6 361.8L564.9 358L560.5 356.8L555.5 357.4L551.8 356.1L548.6 353.6Z"/>
<path fill="#0064d2" d="M584.9 255.6L590.5 257.5L595.5 260L601.1 263.8L604.2 267.5L605.5 272.5L603 276.2L599.9 280L596.8 283.8L594.9 286.8L596.1 289.9L597.4 292.4L593 294.2L588 296.8L583 298.6L578 302.4L576.1 299.9L574.2 296.8L574.2 293L578 290.5L583 288.6L586.1 285.5L586.1 280L583.6 275L581.8 270L579.9 263.8L583 260Z"/>
<path fill="#00a0e8" d="M601.1 263.8L606.8 264.4L613 263.1L620 262.5L625 258.8L630 247.5L632.5 245.6L640.6 246.2L643.1 252.5L645 258.8L648.1 263.8L651.2 268.8L656.2 272.5L656.9 277.5L653.8 283.1L649.4 288L646.9 290.5L642.5 294.9L636.2 297.4L631.2 298L627.5 299.9L620 299.5L613 301.8L606.8 301.1L605.5 298L604.2 294.2L600.5 291.8L597.4 292.4L596.1 289.9L594.9 286.8L596.8 283.8L599.9 280L603 276.2L605.5 272.5L604.2 267.5Z"/>
<path fill="#0028b9" d="M578 302.4L583 298.6L588 296.8L593 294.2L597.4 292.4L600.5 291.8L604.2 294.2L605.5 298L606.8 301.1L613 301.8L620 299.5L627.5 299.9L629.4 301.8L627.5 306.8L628.8 309.2L629.4 313L633.8 315.5L638.1 319.2L640 324.2L643.8 327.4L643.8 329.2L638.8 333.6L635 338L631.9 343L631.9 350.5L632.5 356.1L627.5 356.8L620 358L615.5 357.4L610.5 355.5L605.5 353L600.5 353L598 351.8L597.4 351.8L594.2 348L590.5 346.1L588 345.5L588 338L587.4 329.2L586.1 320.5L584.2 316.8L581.1 313L578 308L576.1 303Z"/>
<path fill="#00a0e8" d="M604.9 379.9L609.2 378.2L614.2 377.6L620 378L625 373.6L629.4 376.8L632.5 380.5L631.9 385.5L627.5 389.2L623.8 391.8L620 394.9L616.1 396.1L613 393.6L609.2 390.5L606.1 386.8L604.2 383Z"/>
<path fill="#0028b9" d="M533 136.2L537.2 133.8L543.5 136.2L544.8 141.2L539.8 142.5L536 140Z"/>
<path fill="#0028b9" d="M537.2 165L543.5 161.2L544.8 153.8L552.2 151.8L562.2 149.5L564 155L559.8 160L553.5 163.8L548.5 167.5L544.8 172.5L539.8 176.2L538.5 170Z"/>
<path fill="#0064d2" d="M552.2 166.2L559.8 160L564 155L571 152L577.2 148L582.2 151.2L581 158.8L587.2 167.5L584.8 175L577.2 175.5L571 178L564.8 185L561 177.5L557.2 171.2Z"/>
<path fill="#a5a5a5" d="M564.8 185L571 178L577.2 175.5L584.8 175L589.8 181.2L592.2 186.2L587.2 191.2L582.2 196.2L574.8 197L568.5 192.5Z"/>
<path fill="#0028b9" d="M587.2 167.5L593.5 166.2L599.8 165L603.5 168.8L603.5 173.8L616 170L617.2 177.5L613.5 183.8L604.8 190L597.2 192.5L593.5 196.2L596 202.5L592.2 205L587.2 197.5L583.5 192.5L587.2 191.2L592.2 186.2L589.8 181.2L584.8 175Z"/>
<path fill="#0028b9" d="M559.8 211.2L562.2 203.8L568.5 200L574.8 197L579.8 197.5L581 203.8L576 208.8L574.8 215L571 220L566 225L562.2 221.2L559.8 216.2Z"/>
<path fill="#0028b9" d="M577.2 228.8L583.5 225L589.8 221.2L594.8 216.2L601 212.5L602.2 216.2L598.5 222.5L593.5 228.8L587.2 232.5L583.5 237.5L579.8 233.8Z"/>
<path fill="#0064d2" d="M563.5 231.2L566 228.8L571 232.5L577.2 232.5L581 237.5L577.2 242.5L572.2 240L567.2 236.2Z"/>
<path fill="#a5a5a5" d="M593.5 132.5L601 128.8L608.5 123.8L616 130L623.5 136.2L636 145.5L648.5 156.2L646 162.5L638.5 166.2L637.2 172.5L631 175L624.8 172.5L621 177.5L617.2 177.5L616 170L603.5 173.8L603.5 168.8L606 162.5L602.2 155L597.2 152.5L598.5 145L596 137.5Z"/>
<path fill="#a5a5a5" d="M638.5 166.2L646 162.5L648.5 156.2L661 163.8L662.2 167.5L658.5 172.5L656 177.5L649.8 180L646 177.5L641 175L637.2 172.5Z"/>
<path fill="#a5a5a5" d="M631 175L637.2 172.5L641 175L646 177.5L649.8 180L656 177.5L661 180L666 186.2L669.8 190L663.5 192.5L658.5 191.2L653.5 195L646 193.8L638.5 191.2L632.2 188.8L630.5 182.5Z"/>
<path fill="#0028b9" d="M654.4 203.8L657.5 201.9L662.5 200.6L666.9 198.8L670.6 196.2L675 198.8L677.5 200L678.1 205L680 210L678.8 212.5L673.8 213.8L667.5 213.1L661.2 211.9L657.5 210L656.2 206.9Z"/>
<path fill="#a5a5a5" d="M657.5 213.1L661.2 211.9L667.5 213.1L673.8 213.8L678.8 212.5L681.2 213.8L684.4 215L683.8 220L681.2 223.8L678.8 226.2L675 228.1L671.2 230L666.2 228.1L662.5 227.5L661.2 222.5L660 218.8L658.1 216.2Z"/>
<path fill="#a5a5a5" d="M640.6 246.2L651.2 243.1L661.2 240L670 238.8L680 238.8L681.9 241.2L681.2 247.5L684.4 250L683.8 253.8L680 257.5L676.2 261.2L671.2 265L666.2 268.8L661.2 271.9L656.2 272.5L651.2 268.8L648.1 263.8L645 258.8L643.1 252.5Z"/>
<path fill="#0028b9" d="M726.2 229.4L730 231.2L733.8 235L737.5 239.4L743.1 240L746.9 241.9L743.8 244.4L740.6 246.2L738.8 250L735 251.9L728.8 253.1L721.2 253.8L715.6 252.5L713.1 250L713.8 246.2L718.8 241.2L722.5 236.2L724.4 231.9Z"/>
<path fill="#a5a5a5" d="M741.2 246.2L743.8 244.4L746.9 241.9L750.6 240L753.8 245L756.2 250L758.8 252.5L761.2 258.8L763.1 267.5L760 268.8L756.2 270L752.5 268.1L750 263.8L745 263.1L740 261.9L734.4 258.8L736.9 254.4L738.8 250Z"/>
<path fill="#a5a5a5" d="M627.5 201.2L632.5 197.5L638.8 194.4L645 193.8L648.8 195.6L646.9 200L643.8 203.8L640 206.2L636.2 208.1L632.5 205.6L628.8 204.4Z"/>
<path fill="#0028b9" d="M627.5 306.8L629.4 301.8L631.2 298L636.2 297.4L642.5 294.9L646.9 290.5L649.4 288L653.8 283.1L656.9 281.8L657.5 284.2L661.2 287L663.8 291.8L670 293L675 290.5L676.2 295.5L678.8 304.2L676.9 309.2L673.1 313L670 314.9L662.5 317.4L656.2 321.8L650 324.9L643.8 327.4L640 324.2L638.1 319.2L633.8 315.5L629.4 313L628.8 309.2Z"/>
<path fill="#0028b9" d="M656.9 280L658.8 275L663.8 272.5L670 273.1L672.5 273.8L675.6 280L678.1 287L678.8 289.2L675 290.5L670 293L663.8 291.8L661.2 287L657.5 284.2Z"/>
<path fill="#0028b9" d="M675.6 280L678.8 276.2L685 275L692.5 275.5L698.8 278L703.1 283L706.2 287L707.5 290.5L702.5 294.2L697.5 296.8L691.2 298L686.2 296.1L681.2 293L678.8 289.2L678.1 287Z"/>
<path fill="#0064d2" d="M678.8 289.2L681.2 293L686.2 296.1L691.2 298L697.5 296.8L702.5 294.2L707.5 290.5L712.5 291.8L713.1 296.8L715 303L716.9 308L718.8 311.8L720 315.5L716.2 316.5L711.2 318L709.4 318L709.4 324.2L705 325.5L700 328L695 329.9L690 331.1L685 332.4L681.9 331.8L678.8 326.8L675.6 321.8L673.1 317.4L673.1 313L676.9 309.2L678.8 304.2L676.2 295.5L675 290.5Z"/>
<path fill="#0028b9" d="M643.8 327.4L650 324.9L656.2 321.8L662.5 317.4L670 314.9L673.1 313L673.1 317.4L675.6 321.8L678.8 326.8L681.9 331.8L685 332.4L682.5 335.5L678.8 336.8L673.8 337.4L667.5 338L661.2 336.8L655 334.9L650 332.4L646.2 329.9Z"/>
<path fill="#00a0e8" d="M643.8 329.2L646.2 329.9L650 332.4L655 334.9L661.2 336.8L667.5 338L673.8 337.4L678.8 336.8L682.5 335.5L684.4 333.6L685.6 338L686.9 341.8L682.5 343.6L677.5 345.5L672.5 346.1L670 349.2L665 349.2L663.1 351.8L665.6 354.2L666.2 358L663.8 361.8L661.2 366.8L658.8 371.1L655.6 374.2L651.2 373L645 373L641.2 374.9L638.8 370.5L638.1 365.5L635.6 361.8L632.5 358L631.9 350.5L631.9 343L635 338L638.8 333.6Z"/>
<path fill="#0064d2" d="M663.1 351.8L665 349.2L670 349.2L672.5 346.1L677.5 345.5L682.5 343.6L686.9 341.8L688.8 345.5L689.4 349.2L686.9 351.8L682.5 354.2L678.8 358L675 360.5L670 361.8L666.2 358L665.6 354.2Z"/>
<path fill="#0028b9" d="M666.2 358L670 361.8L675 360.5L674.4 364.2L672.5 368L671.9 371.1L668.8 373L663.8 373.6L658.8 374.2L655.6 374.2L658.8 371.1L661.2 366.8L663.8 361.8Z"/>
<path fill="#00a0e8" d="M675 360.5L678.8 358L682.5 354.2L686.9 351.8L688.8 354.2L691.2 358L692.5 363L694.4 366.8L696.2 370.5L695 373L691.9 375.5L690 379.2L689.4 383.6L685 381.8L680 379.9L676.9 376.8L676.2 373L672.5 371.1L672.5 368L674.4 364.2Z"/>
<path fill="#0028b9" d="M685 332.4L690 331.1L695 329.9L700 328L705 325.5L709.4 324.2L709.4 349.2L706.2 348L705 344.2L702.5 340.5L697.5 337.4L693.1 338L690 340.5L688.1 341.8L686.9 341.8L685.6 338L684.4 333.6Z"/>
<path fill="#0028b9" d="M686.9 341.8L688.1 341.8L690 340.5L693.1 338L697.5 337.4L702.5 340.5L705 344.2L706.2 348L702.5 350.5L697.5 351.8L692.5 353L689.4 354.9L689.4 349.2L688.8 345.5Z"/>
<path fill="#0064d2" d="M689.4 354.9L692.5 353L697.5 351.8L702.5 350.5L706.2 348L709.4 349.2L715 349.2L716.9 353L716.2 358L714.4 361.8L715 365.5L710 365.5L707.5 368L703.8 368.6L700 369.2L696.2 370.5L694.4 366.8L692.5 363L691.2 358L688.8 354.2Z"/>
<path fill="#00a0e8" d="M691.9 375.5L695 373L698.1 374.9L702.5 377.4L708.1 378.6L707.5 381.1L705.6 381.8L701.2 384.2L697.5 386.8L693.8 384.9L689.4 383.6L690 379.2Z"/>
<path fill="#0028b9" d="M697.5 386.8L701.2 384.2L705.6 381.8L707.5 381.1L709.4 383L709.4 391.8L705 390.5L700 388Z"/>
<path fill="#0028b9" d="M707.5 368L710 365.5L715 365.5L720 366.1L723.8 363L727.5 364.2L731.2 366.8L733.8 368L734.4 373L732.5 378L733.1 384.2L734.4 390.5L731.2 392.4L728.8 394.9L722.5 396.1L715 397.4L711.2 394.2L709.4 391.8L709.4 383L708.1 378.6L707.5 375.5L706.2 371.8Z"/>
<path fill="#0028b9" d="M733.8 368L735 365.5L740 366.1L745 366.8L749.4 368L750.6 371.8L748.8 375.5L746.2 380.5L743.1 378L738.8 375.5L735 375.5L734.4 373Z"/>
<path fill="#0028b9" d="M709.4 318L711.2 318L716.2 316.5L720 315.5L723.8 317.4L726.2 320.5L730 325.5L730.6 328L728.1 330.5L727.5 335.5L726.2 340.5L725.6 345.5L725 348.6L720 349L715 349.2L709.4 349.2Z"/>
<path fill="#0028b9" d="M718.8 311.8L718.8 306.8L720 304.2L725 301.8L732.5 299.9L740 298.6L742.5 300.5L743.1 306.8L745 313L746.9 319.2L747.5 321.8L742.5 324.2L737.5 326.8L733.8 328.6L730 325.5L726.2 320.5L723.8 317.4L720 315.5Z"/>
<path fill="#0028b9" d="M740.6 326.8L747.5 324.9L752.5 325.5L756.2 324.2L756.9 330.5L757.5 338L758.1 345.5L755.6 348L752.5 350.5L751.2 353.6L746.2 352.4L741.2 350.5L738.1 348L740 343L741.9 338L741.9 331.8Z"/>
<path fill="#a5a5a5" d="M742.5 300.5L743.1 297.4L749.4 294.9L752.5 299.2L755 305.5L756.2 313L755.6 319.2L756.2 324.2L752.5 325.5L747.5 324.9L747.5 321.8L746.9 319.2L745 313L743.1 306.8Z"/>
<path fill="#00c878" d="M655.6 408.8L656.9 405.6L658.8 402.4L663.8 399.2L668.8 398.6L671.9 401.1L672.5 405.5L674.4 408.6L672.8 412.5L673.8 417.5L670.6 419.4L665 418.8L660 417.5L656.9 413.8Z"/>
<path fill="#0064d2" d="M721.2 407.5L723.8 405L727.5 403.8L730.6 405L731.9 408.1L730 411.9L730.6 416.2L733.1 418.8L731.9 421.9L728.1 423.8L725 421.9L722.5 419.4L724.4 415.6L725 411.9L722.5 410Z"/>
<path fill="#0028b9" d="M713.8 460L716.2 456.2L718.8 452.5L721.2 448.8L722.5 442.5L724.4 445L727.5 448.8L730.6 452.5L733.8 456.2L735.6 460L735 465L733.1 467.5L727.5 468.1L723.8 468.8L720 470L716.9 468.1L714.4 464.4Z"/>
<path fill="#0028b9" d="M770 480L773.8 476.9L778.8 474.4L783.8 474L788.8 475L789.4 478.8L787.5 482.5L783.8 484.4L781.2 487.5L780 492.5L776.2 494.4L771.2 495.6L766.9 493.1L764.4 490L766.9 486.2L768.1 481.2Z"/>
<path fill="#0028b9" d="M744.4 510.6L747.5 506.9L752.5 504.4L757.5 505L761.2 505.6L763.1 507.5L765 511.9L765.6 513.8L761.2 515.6L757.5 518.1L752.5 518.8L748.8 516.9L746.2 514.4Z"/>
<path fill="#a5a5a5" d="M722.5 582.5L726.2 575L727.5 565L732.5 557.5L738.8 553.8L741.2 560L746.2 566.2L752.5 572.5L758.8 576.2L762.5 580L756.2 583.8L751.2 588.8L742.5 587.5L735 588.8L727.5 586.2Z"/>
<path fill="#a5a5a5" d="M729.5 601.2L737.5 600L746.2 596.2L753.8 597.5L760 602.5L767.5 605L773.8 606.2L772.5 612.5L766.2 617.5L761.2 615L760 608.8L753.8 611.2L748.8 617.5L743.8 620L740 617.5L738.8 630L736.2 627.5L733.8 617.5L731.2 610Z"/>
<path fill="#0064d2" d="M730 650L733.8 642.5L740 636.2L748.8 635L755 636.2L760 631.2L767.5 628.8L772.5 635L770 642.5L768.8 652.5L766.2 662.5L762.5 670L753.8 667.5L745 663.8L735 662.5L729.5 660Z"/>
<path fill="#a5a5a5" d="M788.8 630L792.5 623.8L802.5 620L807.5 625L811.2 632.5L812.5 640L811.2 646.2L820 647.5L826.2 646.2L827.5 640L840 637.5L850 642.5L855.5 643.8L853.8 652.5L855 660L850 666.2L847.5 672.5L845 682.5L838.8 683.8L832.5 678.8L830 670L822.5 668.8L820 661.2L810 657.5L803.8 656.2L801.2 661.2L798.8 662.5L798.8 657.5L802.5 650L805 646.2L800 640L793.8 636.2Z"/>
<path fill="#0064d2" d="M931.2 678.8L936.2 673.8L938.8 667.5L947.5 672.5L960 682.5L958.8 688.8L951.2 687.5L947.5 692.5L942.5 692.5L941.2 685L936.2 681.2Z"/>
<path fill="#a5a5a5" d="M783.1 315L786.9 321.2L791.2 331.2L794.4 338.1L792.5 340L787.5 341.2L782.5 340L778.8 338.1L776.2 335L774.4 332.5L777.5 329.4L780.6 326.2L781.9 322.5L780 320L781.2 316.9Z"/>
<path fill="#0028b9" d="M782.5 342.5L787.5 341.2L792.5 340L794.4 338.1L796.9 347.5L798.1 355L793.8 357.5L789.4 362.5L795 366.2L795.6 369.4L803.1 369.4L805 371.2L808.8 382.5L809.4 384.4L805 385.6L801.2 386.2L796.2 383.8L791.2 385L788.1 387.5L785.6 391.2L783.8 386.2L777.5 385.6L772.5 387.5L768.8 390.6L763.8 391.2L760.6 388.8L758.1 386.2L753.8 383.8L749.4 381.9L745.6 380L748.8 376.2L750.6 372.5L748.8 367.5L752.5 362.5L756.2 360L760 360.6L765 365L770 360L775 355L780 350L781.9 346.2Z"/>
<path fill="#a5a5a5" d="M789.4 362.5L793.8 357.5L798.1 355L800.6 358.8L803.1 369.4L795.6 369.4L795 366.2Z"/>
<path fill="#a5a5a5" d="M795 394.4L796.2 391.2L801.2 388.8L805 386.2L809.4 384.4L812.5 391.2L813.8 394.4L810 396.2L806.2 398.1L802.5 400L798.1 401.2L796.2 397.5Z"/>
<path fill="#0028b9" d="M795 416.2L797.5 413.1L802.5 411.2L808.8 411L815 410L816.5 412.5L813.8 415.6L811.9 420L808.8 425L806.2 426.9L803.1 424.4L798.8 422.5L796.9 419.4Z"/>
<path fill="#00a0e8" d="M801.2 471.2L803.8 467.5L808.1 465L812.5 463.5L816.2 465L818.8 468.1L821.2 471.2L823.1 476.2L825 480L828.1 481.9L825 483.1L820 484.4L815 485.6L810 486.2L808.1 482.5L805.6 478.8L803.8 475Z"/>
<path fill="#0028b9" d="M789.4 472.5L793.8 471.2L798.1 469.4L801.2 471.2L803.8 475L805.6 478.8L808.1 482.5L810 486.2L805 489.4L801.2 487.5L797.5 485L794.4 481.2L791.2 477.5Z"/>
<path fill="#a5a5a5" d="M771.2 506.2L773.8 500L776.9 498.8L778.8 503.8L782.5 510L786.9 515L788.1 520L781.2 518.8L776.2 518.1L772.5 515.6L768.8 516.2L763.8 520L758.8 523.1L758.8 520L761.2 516.2L765 513.8L768.8 511.2Z"/>
<path fill="#0064d2" d="M815 573.1L818.8 570L821.2 565L823.8 563.1L830 561.9L836.9 560L839.4 565L835 570L833.1 576.2L833.8 582.5L835.6 587.5L837.5 591.9L832.5 593.8L827.5 595.6L823.1 594.4L821.2 588.8L818.8 582.5L816.9 577.5Z"/>
<path fill="#0028b9" d="M830.6 596.2L832.5 593.8L837.5 591.9L847.5 590.6L852.5 589.4L857.5 587.5L863.1 586.2L863.8 591.2L867.5 596.2L865 597.5L863.1 601.2L866.2 606.2L870 610L875 611.2L880 613.1L882.5 615L881.2 630L872.5 628.8L862.5 626.2L857.5 621.2L850 620L841.2 621.2L837.5 612.5L833.8 605Z"/>
<path fill="#4f69b0" d="M742.5 562.5L747.5 560L752.5 562.5L756.2 559.4L762.5 558.8L770 558.1L778.8 555.6L785 555L792.5 554.4L798.8 555.6L805 558.1L808.8 561.2L802.5 564.4L796.2 567.5L793.8 570L798.1 573.1L798.8 577.5L796.9 582.5L797.5 587.5L800 591.2L801.9 594.4L796.2 595.6L791.2 598.8L786.2 597.5L780 600L773.8 603.8L768.8 603.1L763.8 601.2L758.8 597.5L752.5 596.2L747.5 597.5L742.5 598.1L735 597.5L735 590L740 588.8L745 588.8L751.2 587.5L753.8 583.8L758.8 581.9L762.5 579.4L761.2 576.2L756.2 575.6L752.5 571.2L748.8 567.5L745 565Z"/>
<path fill="none" stroke-width="0.55" d="M778.1 400.7L783.4 408.6L797.1 404.2L808.8 398.3L813.2 395.4M797.1 404.2L799.1 410.5L803 411M770.7 416.9L774.6 427.6L784.4 425.6L796.1 422.7M773.7 447.6L781 452L785.9 456.4L791.7 462.3L787.8 468.1L789.3 472M791.7 462.3L794.7 456.4L805.9 453.5L808.8 451.5L805.9 445.7L807.9 439.8M808.8 451.5L811.8 454L824.5 453.5M811.8 454L815.7 457.4L814.7 463.2M822.5 478.9L828.4 482.3L837.1 480.3M833 506L836.9 505L840.8 504M806.1 506L810 516.7M798.8 516.7L810 516.7M810 516.7L814.4 522.1L818.3 518.2L823.2 514.3L829.1 509.4L831 506M818.3 518.2L822.2 516.2L832 512.8L841.8 514.3M814.4 522.1L818.3 522.6L826.1 523.6L833 527.5L846.6 528.5M833 527.5L831 530.4L819.3 531.9L815.9 532.4M846.6 528.5L844.7 533.8L838.8 537.7L832 541.6L833 547.5L836.9 553.4L837.9 558.2M837.9 558.2L844.7 556.3L850.5 551.4L855.4 547.5M837.9 558.2L839.8 563.1L844.7 568L848.6 568L848.6 574.8L850 585L852.5 590M863.1 586.2L870 580L872.5 577.5M685 179.4L682.5 182.5L683.1 186.2L680 186.9L678.8 189.4M701.9 215L707.5 215.6L713.8 215L716.9 213.1M700 255L707.5 254.4L713.1 250.2M752.5 268.1L746.2 271.9L740 276.9L735.6 283.1M740 297.4L749.4 294.9L758.8 292.8L771.2 291.5M553 267.5L555.5 261.2L560.5 258.8L564.2 261.9L568 260L571.8 261.2L573 266.2L574.2 272.5L574 280L573.6 288M733.1 525.6L738.8 518.8L745 511.9M579 274.8L581.8 275.2L584.4 276.8L585.7 280.6L587.3 285.4L584.4 287.6L581.8 288.9L578 290.8L574.8 291.4L573.6 294.6L572.9 298.4L569.7 297.5L568.8 295.5L571.3 293.3L571.7 289.5L574.2 286.6L576.4 284.4L576.8 279.9L577.4 276.8L579 274.8M760.6 450.6L759.4 456.2L758.1 461.2L758.1 466.2L760 471.2"/>
<path fill="#dff3fe" d="M208.8 606.2L211.2 596.2L216.2 588.8L225 584.2L235 583L243.8 585L250 590L251.8 597.5L251.2 607.5L251.8 617.5L250 625L243.8 630L235 630.8L227.5 628.8L225 622.5L218.8 616.2L212.5 612.5Z"/>
<path fill="#dff3fe" d="M324.2 558.8L327.5 553.8L329.5 547.5L335 545.8L337 548L333.8 552.5L332 558.8L328 564.5L325 562.5Z"/>
<path fill="#dff3fe" d="M298.2 712.5L305 710.8L312.5 712L314.5 717.5L312.5 723.8L305 725.5L298.8 723.8L297 717.5Z"/>
<path fill="#dff3fe" d="M258.8 363.8L265 358.8L277.5 357L292.5 358.8L303.8 363L306.2 370L301.2 376.2L300 385L306.2 392.5L307.5 397L300 398.8L288.8 402L278.8 396.2L268.8 390L266.2 382.5L261.2 373.8Z"/>
<path fill="#dff3fe" d="M306.2 798L308.8 791.8L315 786.8L323.8 784.2L330 785L332.5 783L333.8 787.5L338 793L339.5 800.5L338 808L333.8 813L328.8 814.2L325 816.8L320 814.2L313.8 810.5L308.8 805.5Z"/>
<path fill="#dff3fe" d="M450.5 950.5L453 948L456.2 948.5L459.5 951.8L460 955.5L457 958L453.8 956.8L451.2 954.2Z"/>
<path fill="#dff3fe" d="M463.8 966.8L465.8 965L467.5 966.8L467 970.5L465 971.8L463.5 970Z"/>
</g>

<!-- sea -->
<g fill="#dff3fe" stroke="none">
<path d="M503.5 35.5L526.0 48.8L533.5 55.0L548.5 70.0L566.0 83.8L573.5 90.0L586.0 101.2L598.5 113.8L608.5 123.0L623.5 135.0L636.0 145.5L648.5 156.2L661.0 163.8L671.0 168.2L686.0 177.5L698.5 182.0L707.0 181.0L709.0 175.0L712.0 173.8L718.5 177.5L726.0 187.5L732.0 195.0L738.5 201.0L746.0 205.0L748.5 210.0L748.5 223.8L753.5 237.5L761.0 255.0L768.5 275.0L771.9 287.5L775.6 296.2L780.0 305.6L783.1 313.8L786.9 321.2L791.2 331.2L794.4 338.1L796.9 347.5L800.6 358.8L805.0 371.2L808.8 382.5L812.5 391.2L815.0 398.5L816.9 410.0L820.0 425.0L823.1 437.5L826.2 450.0L830.0 462.5L833.8 473.8L837.5 481.2L838.8 490.0L841.2 498.8L845.0 510.0L848.8 521.2L852.5 532.5L856.2 545.0L860.0 555.0L865.0 565.0L870.0 575.0L873.8 580.0L877.5 588.8L882.5 597.5L887.5 606.2L892.5 613.8L895.0 618.0L903.8 628.8L917.5 645.0L930.0 657.5L947.5 672.5L960.0 682.5L974.0 692.5L982.5 697.5L992.5 712.5L1005.0 726.2L1014.3 736.7L1016.0 742.8L1026.6 751.6L1041.5 762.2L1059.1 771.0L1071.4 775.4L1075.8 778.0L1080.2 776.2L1081.0 786.8L1081.0 797.3L1081.0 806.1L1089.0 814.9L1104.8 823.7L1117.1 832.5L1132.9 839.5L1148.7 843.9L1166.3 847.5L1173.5 853.5L1173.5 35.5Z"/>
<path d="M83.5 693.8L100.0 702.5L120.0 712.5L135.0 723.8L148.8 738.8L160.0 755.0L167.5 772.5L171.2 780.0L173.8 790.0L185.0 810.0L191.2 816.2L196.2 827.5L202.5 836.2L210.0 835.0L222.5 833.0L232.5 838.8L242.5 847.5L250.0 852.5L257.5 857.5L266.2 867.5L277.5 875.0L287.5 878.8L297.5 888.8L305.0 900.0L311.2 913.8L316.2 925.0L318.8 938.0L320.0 953.0L330.0 955.5L345.0 963.0L360.0 973.0L377.5 987.5L83.5 987.5Z"/>
</g>
<g fill="none" stroke="#111" stroke-width="0.9" stroke-linejoin="round">
<path d="M503.5 35.5L526.0 48.8L533.5 55.0L548.5 70.0L566.0 83.8L573.5 90.0L586.0 101.2L598.5 113.8L608.5 123.0L623.5 135.0L636.0 145.5L648.5 156.2L661.0 163.8L671.0 168.2L686.0 177.5L698.5 182.0L707.0 181.0L709.0 175.0L712.0 173.8L718.5 177.5L726.0 187.5L732.0 195.0L738.5 201.0L746.0 205.0L748.5 210.0L748.5 223.8L753.5 237.5L761.0 255.0L768.5 275.0L771.9 287.5L775.6 296.2L780.0 305.6L783.1 313.8L786.9 321.2L791.2 331.2L794.4 338.1L796.9 347.5L800.6 358.8L805.0 371.2L808.8 382.5L812.5 391.2L815.0 398.5L816.9 410.0L820.0 425.0L823.1 437.5L826.2 450.0L830.0 462.5L833.8 473.8L837.5 481.2L838.8 490.0L841.2 498.8L845.0 510.0L848.8 521.2L852.5 532.5L856.2 545.0L860.0 555.0L865.0 565.0L870.0 575.0L873.8 580.0L877.5 588.8L882.5 597.5L887.5 606.2L892.5 613.8L895.0 618.0L903.8 628.8L917.5 645.0L930.0 657.5L947.5 672.5L960.0 682.5L974.0 692.5L982.5 697.5L992.5 712.5L1005.0 726.2L1014.3 736.7L1016.0 742.8L1026.6 751.6L1041.5 762.2L1059.1 771.0L1071.4 775.4L1075.8 778.0L1080.2 776.2L1081.0 786.8L1081.0 797.3L1081.0 806.1L1089.0 814.9L1104.8 823.7L1117.1 832.5L1132.9 839.5L1148.7 843.9L1166.3 847.5L1173.5 853.5"/>
<path d="M83.5 693.8L100.0 702.5L120.0 712.5L135.0 723.8L148.8 738.8L160.0 755.0L167.5 772.5L171.2 780.0L173.8 790.0L185.0 810.0L191.2 816.2L196.2 827.5L202.5 836.2L210.0 835.0L222.5 833.0L232.5 838.8L242.5 847.5L250.0 852.5L257.5 857.5L266.2 867.5L277.5 875.0L287.5 878.8L297.5 888.8L305.0 900.0L311.2 913.8L316.2 925.0L318.8 938.0L320.0 953.0L330.0 955.5L345.0 963.0L360.0 973.0L377.5 987.5"/>
</g>

<!-- epicentre star -->
<path d="M603.50 435.25L609.08 452.42L627.13 452.42L612.53 463.03L618.11 480.20L603.50 469.59L588.89 480.20L594.47 463.03L579.87 452.42L597.92 452.42Z" fill="#000"/><path d="M603.50 447.90L606.24 456.33L615.10 456.33L607.93 461.54L610.67 469.97L603.50 464.76L596.33 469.97L599.07 461.54L591.90 456.33L600.76 456.33Z" fill="#fff"/>

<!-- gridlines -->
<g stroke="#1a1a1a" stroke-width="0.8" fill="none">
<path d="M252.3 35.5V987.5M709.5 35.5V987.5M1166.5 35.5V987.5M83.5 228.8H1173.5M83.5 848.3H1173.5"/>
</g>

<!-- frame -->
<g>
<path d="M73.6 25.8H1182.8V997H73.6Z M83.6 35.7V987.4H1173.5V35.7Z" fill="#fff" fill-rule="evenodd" stroke="none"/>
<rect x="252.3" y="25.8" width="457.2" height="9.9" fill="#000"/>
<rect x="1166.5" y="25.8" width="7" height="9.9" fill="#000"/>
<rect x="252.3" y="987.4" width="457.2" height="9.6" fill="#000"/>
<rect x="1166.5" y="987.4" width="7" height="9.6" fill="#000"/>
<rect x="73.6" y="228.8" width="10" height="619.5" fill="#000"/>
<rect x="1173.5" y="228.8" width="9.3" height="619.5" fill="#000"/>
<rect x="73.6" y="25.8" width="1109.2" height="971.2" fill="none" stroke="#000" stroke-width="1.15"/>
<path d="M73.6 35.7H1182.8M73.6 987.4H1182.8M83.6 25.8V997M1173.5 25.8V997" fill="none" stroke="#000" stroke-width="1.1"/>
</g>

<!-- axis labels -->
<g font-size="23.2" fill="#000">
<text x="220.2" y="16.6" textLength="63.6" lengthAdjust="spacingAndGlyphs">12°00'</text>
<text x="677.6" y="16.6" textLength="63.6" lengthAdjust="spacingAndGlyphs">13°30'</text>
<text x="1134.6" y="16.6" textLength="63.6" lengthAdjust="spacingAndGlyphs">15°00'</text>
<text x="220.2" y="1023.6" textLength="63.6" lengthAdjust="spacingAndGlyphs">12°00'</text>
<text x="677.6" y="1023.6" textLength="63.6" lengthAdjust="spacingAndGlyphs">13°30'</text>
<text x="1134.6" y="1023.6" textLength="63.6" lengthAdjust="spacingAndGlyphs">15°00'</text>
<text x="-0.3" y="237" textLength="63.6" lengthAdjust="spacingAndGlyphs">43°30'</text>
<text x="-0.3" y="856.5" textLength="63.6" lengthAdjust="spacingAndGlyphs">42°00'</text>
<text x="1192.5" y="237" textLength="63.6" lengthAdjust="spacingAndGlyphs">43°30'</text>
<text x="1192.5" y="856.5" textLength="63.6" lengthAdjust="spacingAndGlyphs">42°00'</text>
</g>

<!-- info text box -->
<rect x="773.4" y="46.5" width="382.3" height="61.5" fill="#fff" stroke="#000" stroke-width="1.1"/>
<g font-size="12.25" fill="#000">
<text x="779" y="59.5">Terremoto del 14-11-2016 20:49:52 (ora locale) ML=3.9 Prof=10 km</text>
<text x="779" y="74.7">Mappa preliminare delle intensità macrosismiche stimate nei comuni</text>
<text x="779" y="89.8">Dati non verificati estratti da 475 questionari compilati tramite Internet.</text>
<text x="779" y="104.8">Ultimo aggiornamento: 18-12-2025 19:11 (ora locale)</text>
</g>

<!-- legend -->
<rect x="1054.6" y="171.6" width="99.1" height="472.9" fill="#fff" stroke="#000" stroke-width="1.1"/>
<g font-size="12" font-weight="bold" fill="#000" text-anchor="middle">
<text class="dv" x="1104" y="187.7">Scala</text>
<text class="dv" x="1104" y="203.7">Mercalli</text>
<text class="dv" x="1104" y="219.9">(MCS)</text>
</g>
<rect x="1075.3" y="229.60" width="57.4" height="19.0" fill="#a6a6a6" stroke="#000" stroke-width="1.2"/>
<text class="dv" x="1104.2" y="242.9" font-size="12" font-weight="bold" fill="#fff" text-anchor="middle">n.a.*</text>
<rect x="1075.3" y="253.65" width="57.4" height="19.0" fill="#5069b0" stroke="#000" stroke-width="1.2"/>
<text class="dv" x="1103.8" y="266.95" font-size="12" font-weight="bold" fill="#fff" text-anchor="middle">II</text>
<rect x="1075.3" y="277.70" width="57.4" height="19.0" fill="#0028b9" stroke="#0028b9" stroke-width="1.2"/>
<text class="dv" x="1103.8" y="291" font-size="12" font-weight="bold" fill="#fff" text-anchor="middle">III</text>
<rect x="1075.3" y="301.75" width="57.4" height="19.0" fill="#0064d2" stroke="#000" stroke-width="1.2"/>
<text class="dv" x="1104.3" y="315.05" font-size="12" font-weight="bold" fill="#fff" text-anchor="middle">III-IV</text>
<rect x="1075.3" y="325.80" width="57.4" height="19.0" fill="#00a0e8" stroke="#000" stroke-width="1.2"/>
<text class="dv" x="1104.3" y="339.1" font-size="12" font-weight="bold" fill="#fff" text-anchor="middle">IV</text>
<rect x="1075.3" y="349.85" width="57.4" height="19.0" fill="#00c878" stroke="#000" stroke-width="1.2"/>
<text class="dv" x="1104.3" y="363.15" font-size="12" font-weight="bold" fill="#000" text-anchor="middle">IV-V</text>
<rect x="1075.3" y="373.90" width="57.4" height="19.0" fill="#00f000" stroke="#000" stroke-width="1.2"/>
<text class="dv" x="1103.8" y="387.2" font-size="12" font-weight="bold" fill="#000" text-anchor="middle">V</text>
<rect x="1075.3" y="397.95" width="57.4" height="19.0" fill="#bef500" stroke="#000" stroke-width="1.2"/>
<text class="dv" x="1103.3" y="411.25" font-size="12" font-weight="bold" fill="#000" text-anchor="middle">V-VI</text>
<rect x="1075.3" y="422.00" width="57.4" height="19.0" fill="#fff500" stroke="#000" stroke-width="1.2"/>
<text class="dv" x="1103.3" y="435.3" font-size="12" font-weight="bold" fill="#000" text-anchor="middle">VI</text>
<rect x="1075.3" y="446.05" width="57.4" height="19.0" fill="#ffc800" stroke="#000" stroke-width="1.2"/>
<text class="dv" x="1103.3" y="459.35" font-size="12" font-weight="bold" fill="#000" text-anchor="middle">VI-VII</text>
<rect x="1075.3" y="470.10" width="57.4" height="19.0" fill="#ffa000" stroke="#000" stroke-width="1.2"/>
<text class="dv" x="1103.3" y="483.4" font-size="12" font-weight="bold" fill="#000" text-anchor="middle">VII</text>
<rect x="1075.3" y="494.15" width="57.4" height="19.0" fill="#ff7300" stroke="#000" stroke-width="1.2"/>
<text class="dv" x="1103.3" y="507.45" font-size="12" font-weight="bold" fill="#000" text-anchor="middle">VII-VIII</text>
<rect x="1075.3" y="518.20" width="57.4" height="19.0" fill="#ff0000" stroke="#000" stroke-width="1.2"/>
<text class="dv" x="1103.3" y="531.5" font-size="12" font-weight="bold" fill="#000" text-anchor="middle">VIII</text>
<text class="dv" x="1104.4" y="557.6" font-size="12" fill="#111" text-anchor="middle">*non avvertito</text>
<path d="M1052.8 568.3H1151.5" stroke="#000" stroke-width="1" stroke-dasharray="2,1.6" fill="none"/>
<g font-size="12" font-weight="bold" fill="#000" text-anchor="middle">
<text class="dv" x="1103.8" y="583.4">Epicentro</text>
<text class="dv" x="1103.3" y="599.4">strumentale</text>
</g>
<path d="M1101.50 613.60L1103.57 619.96L1110.25 619.96L1104.84 623.89L1106.91 630.24L1101.50 626.31L1096.09 630.24L1098.16 623.89L1092.75 619.96L1099.43 619.96Z" fill="#fff" stroke="#000" stroke-width="1.1" stroke-linejoin="miter"/>

<!-- scale bar -->
<g>
<rect x="153" y="931.3" width="187.5" height="5.6" fill="#fff" stroke="#000" stroke-width="0.9"/>
<rect x="153" y="931.3" width="37.5" height="5.6" fill="#000"/>
<rect x="228" y="931.3" width="37.5" height="5.6" fill="#000"/>
<rect x="303" y="931.3" width="37.5" height="5.6" fill="#000"/>
<path d="M153 931.3V940.5M190.5 937V940.5M228 937V940.5M265.5 937V940.5M303 937V940.5M340.5 931.3V940.5" stroke="#000" stroke-width="0.9" fill="none"/>
<text x="246.8" y="915.4" font-size="29.4" text-anchor="middle">km</text>
<text x="153" y="964.8" font-size="22" text-anchor="middle">0</text>
<text x="340.5" y="964.8" font-size="22" text-anchor="middle">50</text>
</g>

<!-- INGV logo -->
<defs>
<radialGradient id="gl" cx="0.35" cy="0.3" r="0.8">
<stop offset="0" stop-color="#2fa9cb"/><stop offset="0.55" stop-color="#1484ad"/><stop offset="1" stop-color="#0a5a86"/>
</radialGradient>
<radialGradient id="sh" cx="0.4" cy="0.35" r="0.7">
<stop offset="0.6" stop-color="#000" stop-opacity="0"/><stop offset="1" stop-color="#000" stop-opacity="0.28"/>
</radialGradient>
<clipPath id="gc"><circle cx="505" cy="518" r="411"/></clipPath>
</defs>
<g transform="translate(95 40) scale(0.07326)">
<g clip-path="url(#gc)">
<circle cx="505" cy="518" r="411" fill="url(#gl)"/>
<path d="M545 290L620 350L690 440L600 468L540 470Z" fill="#f5e20a"/>
<path d="M540 470L600 468L690 440L750 600L640 660L532 680Z" fill="#e20a1e"/>
<path d="M532 680L640 660L750 610L790 740L805 790L860 940L500 940Z" fill="#149a3a"/>
<path d="M545 290L650 310L760 350L690 440L620 350Z" fill="#1e9e3c"/>
<path d="M690 440L760 350L870 440L830 540L750 600Z" fill="#f1df0c"/>
<path d="M750 610L830 540L880 450L905 500L930 600L900 720L805 790L790 740Z" fill="#cfc3d6"/>
<path d="M805 790L875 700L860 790L820 830Z" fill="#e4102a"/>
<path d="M545 290L640 250L760 225L770 330L760 350L650 310Z" fill="#e20a1e"/>
<path d="M760 225L800 225L870 320L900 430L870 440L760 350L770 330Z" fill="#d2c6d8"/>
<path d="M545 290L590 200L640 130L720 150L760 190L760 225L640 250Z" fill="#1e9e3c"/>
<path d="M740 185L800 225L760 225Z" fill="#f1df0c"/>
<path d="M888 430L930 430L930 505L905 500Z" fill="#1e9e3c"/>
<g fill="none" stroke="#fff" stroke-width="9" stroke-opacity="0.92" stroke-linecap="round">
<path d="M545 290Q540 480 532 680T505 930"/>
<path d="M545 290Q640 360 690 440T790 740L810 800"/>
<path d="M545 290Q680 310 760 350T905 500"/>
<path d="M545 290Q660 240 760 225"/>
<path d="M545 290Q580 210 640 135"/>
<path d="M545 290Q500 190 450 120"/>
<path d="M545 290Q440 250 350 230T230 215"/>
<path d="M545 290Q330 330 190 420T105 530"/>
<path d="M545 290Q400 430 320 590T240 810"/>
<path d="M540 470Q430 465 350 380T360 200T470 130"/>
<path d="M540 470Q640 475 690 440T770 330T735 185"/>
<path d="M532 680Q400 660 300 590T180 380T235 210"/>
<path d="M532 680Q660 670 750 610T885 440"/>
<path d="M505 885Q370 860 250 790T100 570"/>
<path d="M505 885Q660 870 800 770"/>
</g>
<circle cx="505" cy="518" r="411" fill="url(#sh)"/>
</g>
</g>
<g font-weight="bold" font-size="13.2" fill="#3a3a3c">
<text x="169.6" y="74.7" textLength="89.3" lengthAdjust="spacingAndGlyphs">ISTITUTO NAZIONALE</text>
<text x="169.6" y="89.7" textLength="135.8" lengthAdjust="spacingAndGlyphs">DI GEOFISICA E VULCANOLOGIA</text>
</g>

<!-- hai sentito il terremoto logo -->
<circle cx="1096.7" cy="916.3" r="33.2" fill="#1d1d1b"/>
<circle cx="1096.7" cy="916.3" r="19.2" fill="none" stroke="#e2001a" stroke-width="6"/>
<defs><linearGradient id="cone" x1="0" y1="0" x2="1" y2="0"><stop offset="0" stop-color="#0b6fc0"/><stop offset="1" stop-color="#1a9be6"/></linearGradient></defs>
<path d="M1100.5 921.5L1129.5 934.2Q1132.6 935 1132.6 931.5L1132.6 915Z" fill="#0a5fae"/>
<path d="M1099.5 913.2L1129.2 900.6Q1132.4 899.6 1132.4 903L1132.4 927.5Q1132.4 931.2 1129 930.2L1099.5 920.5Z" fill="url(#cone)"/>
<circle cx="1096.7" cy="916.3" r="8.1" fill="#e2001a"/>
<circle cx="1145.5" cy="916.3" r="10.2" fill="#e2001a"/>
<text transform="translate(1138.8 916.3) rotate(90)" text-anchor="middle" font-size="19" font-weight="bold" fill="#fff">?</text>
<text transform="translate(1096.7 916.3) rotate(122.4) translate(0 -42.8) scale(0.880 1)" text-anchor="middle" font-size="21.0" font-weight="bold" fill="#e2001a">w</text>
<text transform="translate(1096.7 916.3) rotate(141.2) translate(0 -42.8) scale(0.880 1)" text-anchor="middle" font-size="21.0" font-weight="bold" fill="#e2001a">w</text>
<text transform="translate(1096.7 916.3) rotate(160.0) translate(0 -42.8) scale(0.880 1)" text-anchor="middle" font-size="21.0" font-weight="bold" fill="#e2001a">w</text>
<text transform="translate(1096.7 916.3) rotate(172.8) translate(0 -42.8) scale(0.880 1)" text-anchor="middle" font-size="21.0" font-weight="bold" fill="#e2001a">.</text>
<text transform="translate(1096.7 916.3) rotate(182.8) translate(0 -42.8) scale(0.880 1)" text-anchor="middle" font-size="21.0" fill="#1a1a18">h</text>
<text transform="translate(1096.7 916.3) rotate(196.3) translate(0 -42.8) scale(0.880 1)" text-anchor="middle" font-size="21.0" fill="#1a1a18">a</text>
<text transform="translate(1096.7 916.3) rotate(205.7) translate(0 -42.8) scale(0.880 1)" text-anchor="middle" font-size="21.0" fill="#1a1a18">i</text>
<text transform="translate(1096.7 916.3) rotate(215.1) translate(0 -42.8) scale(0.880 1)" text-anchor="middle" font-size="21.0" font-weight="bold" fill="#1a1a18">s</text>
<text transform="translate(1096.7 916.3) rotate(228.5) translate(0 -42.8) scale(0.880 1)" text-anchor="middle" font-size="21.0" font-weight="bold" fill="#1a1a18">e</text>
<text transform="translate(1096.7 916.3) rotate(242.6) translate(0 -42.8) scale(0.880 1)" text-anchor="middle" font-size="21.0" font-weight="bold" fill="#1a1a18">n</text>
<text transform="translate(1096.7 916.3) rotate(254.0) translate(0 -42.8) scale(0.880 1)" text-anchor="middle" font-size="21.0" font-weight="bold" fill="#1a1a18">t</text>
<text transform="translate(1096.7 916.3) rotate(261.4) translate(0 -42.8) scale(0.880 1)" text-anchor="middle" font-size="21.0" font-weight="bold" fill="#1a1a18">i</text>
<text transform="translate(1096.7 916.3) rotate(268.8) translate(0 -42.8) scale(0.880 1)" text-anchor="middle" font-size="21.0" font-weight="bold" fill="#1a1a18">t</text>
<text transform="translate(1096.7 916.3) rotate(280.2) translate(0 -42.8) scale(0.880 1)" text-anchor="middle" font-size="21.0" font-weight="bold" fill="#1a1a18">o</text>
<text transform="translate(1096.7 916.3) rotate(290.3) translate(0 -42.8) scale(0.880 1)" text-anchor="middle" font-size="21.0" fill="#1a1a18">i</text>
<text transform="translate(1096.7 916.3) rotate(295.7) translate(0 -42.8) scale(0.880 1)" text-anchor="middle" font-size="21.0" fill="#1a1a18">l</text>
<text transform="translate(1096.7 916.3) rotate(301.7) translate(0 -42.8) scale(0.880 1)" text-anchor="middle" font-size="21.0" stroke="#1a1a18" stroke-width="0.55" fill="#1a1a18">t</text>
<text transform="translate(1096.7 916.3) rotate(311.8) translate(0 -42.8) scale(0.880 1)" text-anchor="middle" font-size="21.0" stroke="#1a1a18" stroke-width="0.55" fill="#1a1a18">e</text>
<text transform="translate(1096.7 916.3) rotate(322.5) translate(0 -42.8) scale(0.880 1)" text-anchor="middle" font-size="21.0" stroke="#1a1a18" stroke-width="0.55" fill="#1a1a18">r</text>
<text transform="translate(1096.7 916.3) rotate(330.6) translate(0 -42.8) scale(0.880 1)" text-anchor="middle" font-size="21.0" stroke="#1a1a18" stroke-width="0.55" fill="#1a1a18">r</text>
<text transform="translate(1096.7 916.3) rotate(341.3) translate(0 -42.8) scale(0.880 1)" text-anchor="middle" font-size="21.0" stroke="#1a1a18" stroke-width="0.55" fill="#1a1a18">e</text>
<text transform="translate(1096.7 916.3) rotate(358.1) translate(0 -42.8) scale(0.880 1)" text-anchor="middle" font-size="21.0" stroke="#1a1a18" stroke-width="0.55" fill="#1a1a18">m</text>
<text transform="translate(1096.7 916.3) rotate(374.9) translate(0 -42.8) scale(0.880 1)" text-anchor="middle" font-size="21.0" stroke="#1a1a18" stroke-width="0.55" fill="#1a1a18">o</text>
<text transform="translate(1096.7 916.3) rotate(385.0) translate(0 -42.8) scale(0.880 1)" text-anchor="middle" font-size="21.0" stroke="#1a1a18" stroke-width="0.55" fill="#1a1a18">t</text>
<text transform="translate(1096.7 916.3) rotate(395.0) translate(0 -42.8) scale(0.880 1)" text-anchor="middle" font-size="21.0" stroke="#1a1a18" stroke-width="0.55" fill="#1a1a18">o</text>
<text transform="translate(1096.7 916.3) rotate(405.1) translate(0 -42.8) scale(0.880 1)" text-anchor="middle" font-size="21.0" font-weight="bold" fill="#e2001a">.</text>
<text transform="translate(1096.7 916.3) rotate(411.8) translate(0 -42.8) scale(0.880 1)" text-anchor="middle" font-size="21.0" font-weight="bold" fill="#e2001a">i</text>
<text transform="translate(1096.7 916.3) rotate(419.2) translate(0 -42.8) scale(0.880 1)" text-anchor="middle" font-size="21.0" font-weight="bold" fill="#e2001a">t</text>
</svg>
</body></html>
